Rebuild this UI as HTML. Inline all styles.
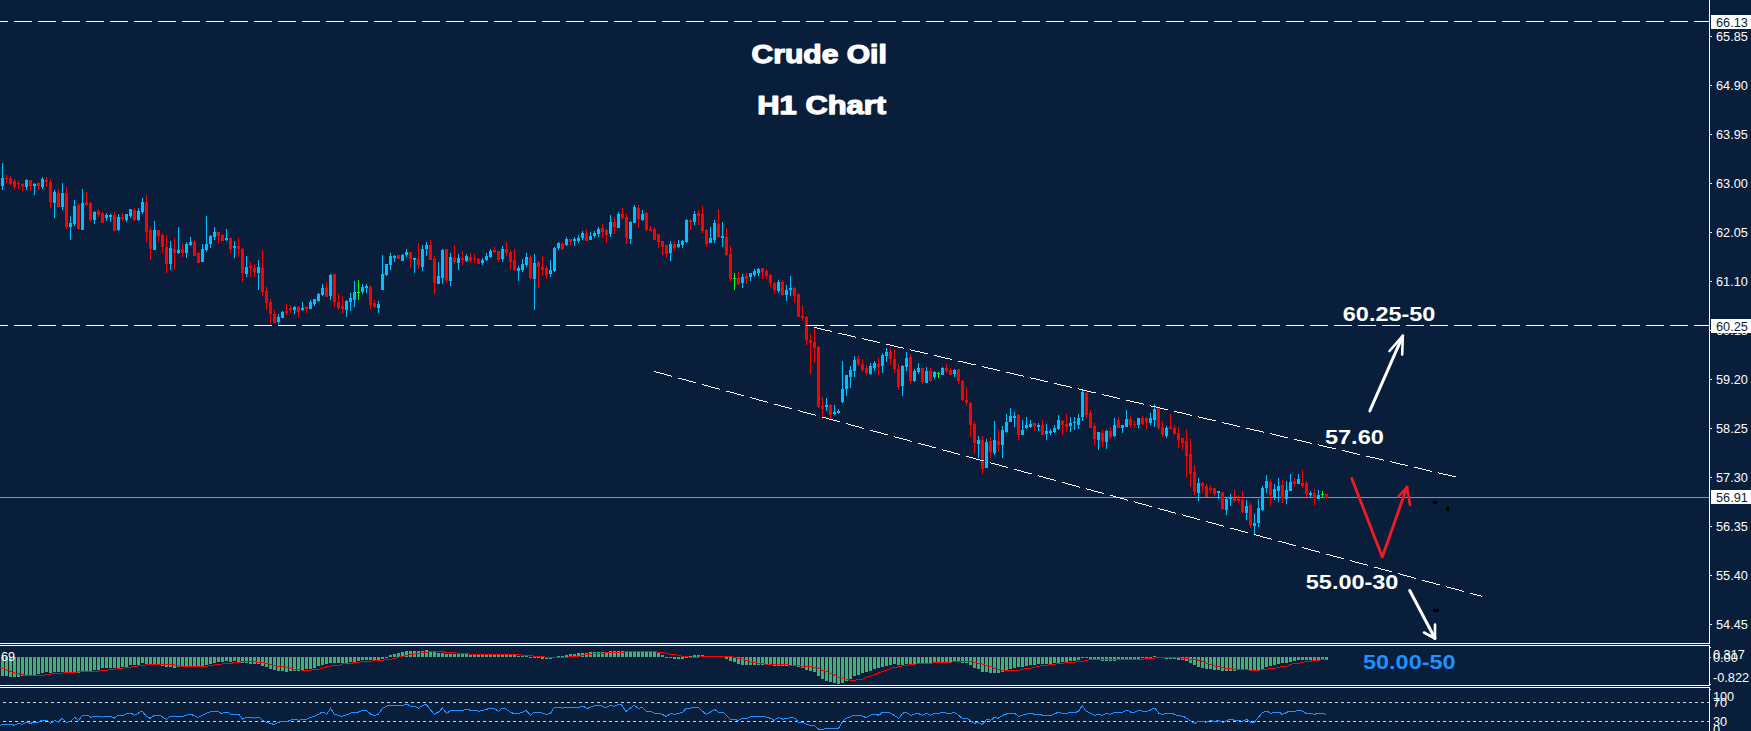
<!DOCTYPE html>
<html><head><meta charset="utf-8"><title>Crude Oil H1 Chart</title>
<style>html,body{margin:0;padding:0;background:#091e3a;overflow:hidden}svg{display:block}text{font-family:"Liberation Sans",sans-serif}</style>
</head><body>
<svg width="1751" height="731" viewBox="0 0 1751 731">
<rect x="0" y="0" width="1751" height="731" fill="#091e3a"/>
<rect x="0" y="497" width="1709" height="1" fill="#8795aa" shape-rendering="crispEdges"/>
<g shape-rendering="crispEdges">
<rect x="2" y="163" width="1" height="27" fill="#00bfff"/>
<rect x="1" y="178" width="3" height="8" fill="#00bfff"/>
<rect x="6" y="175" width="1" height="8" fill="#ff0000"/>
<rect x="5" y="178" width="3" height="1" fill="#ff0000"/>
<rect x="10" y="176" width="1" height="9" fill="#ff0000"/>
<rect x="9" y="178" width="3" height="6" fill="#ff0000"/>
<rect x="14" y="179" width="1" height="10" fill="#ff0000"/>
<rect x="13" y="181" width="3" height="6" fill="#ff0000"/>
<rect x="18" y="181" width="1" height="8" fill="#ff0000"/>
<rect x="17" y="183" width="3" height="1" fill="#ff0000"/>
<rect x="22" y="183" width="1" height="8" fill="#ff0000"/>
<rect x="21" y="184" width="3" height="2" fill="#ff0000"/>
<rect x="26" y="179" width="1" height="11" fill="#00bfff"/>
<rect x="25" y="180" width="3" height="7" fill="#00bfff"/>
<rect x="30" y="180" width="1" height="11" fill="#ff0000"/>
<rect x="29" y="180" width="3" height="6" fill="#ff0000"/>
<rect x="34" y="183" width="1" height="12" fill="#00bfff"/>
<rect x="33" y="184" width="3" height="2" fill="#00bfff"/>
<rect x="38" y="182" width="1" height="8" fill="#ff0000"/>
<rect x="37" y="183" width="3" height="3" fill="#ff0000"/>
<rect x="42" y="177" width="1" height="12" fill="#00bfff"/>
<rect x="41" y="179" width="3" height="8" fill="#00bfff"/>
<rect x="46" y="177" width="1" height="10" fill="#ff0000"/>
<rect x="45" y="180" width="3" height="2" fill="#ff0000"/>
<rect x="50" y="179" width="1" height="29" fill="#ff0000"/>
<rect x="49" y="182" width="3" height="20" fill="#ff0000"/>
<rect x="54" y="190" width="1" height="28" fill="#00bfff"/>
<rect x="53" y="192" width="3" height="11" fill="#00bfff"/>
<rect x="58" y="189" width="1" height="18" fill="#ff0000"/>
<rect x="57" y="193" width="3" height="14" fill="#ff0000"/>
<rect x="62" y="183" width="1" height="27" fill="#00bfff"/>
<rect x="61" y="193" width="3" height="14" fill="#00bfff"/>
<rect x="66" y="187" width="1" height="42" fill="#ff0000"/>
<rect x="65" y="193" width="3" height="34" fill="#ff0000"/>
<rect x="70" y="216" width="1" height="24" fill="#00bfff"/>
<rect x="69" y="223" width="3" height="4" fill="#00bfff"/>
<rect x="74" y="200" width="1" height="26" fill="#00bfff"/>
<rect x="73" y="206" width="3" height="18" fill="#00bfff"/>
<rect x="78" y="203" width="1" height="27" fill="#ff0000"/>
<rect x="77" y="205" width="3" height="24" fill="#ff0000"/>
<rect x="82" y="189" width="1" height="41" fill="#00bfff"/>
<rect x="81" y="203" width="3" height="27" fill="#00bfff"/>
<rect x="86" y="192" width="1" height="14" fill="#ff0000"/>
<rect x="85" y="202" width="3" height="3" fill="#ff0000"/>
<rect x="90" y="202" width="1" height="20" fill="#ff0000"/>
<rect x="89" y="203" width="3" height="17" fill="#ff0000"/>
<rect x="94" y="211" width="1" height="13" fill="#00bfff"/>
<rect x="93" y="212" width="3" height="8" fill="#00bfff"/>
<rect x="98" y="209" width="1" height="8" fill="#ff0000"/>
<rect x="97" y="211" width="3" height="4" fill="#ff0000"/>
<rect x="102" y="212" width="1" height="11" fill="#ff0000"/>
<rect x="101" y="213" width="3" height="10" fill="#ff0000"/>
<rect x="106" y="213" width="1" height="8" fill="#00bfff"/>
<rect x="105" y="215" width="3" height="3" fill="#00bfff"/>
<rect x="110" y="214" width="1" height="8" fill="#00bfff"/>
<rect x="109" y="215" width="3" height="2" fill="#00bfff"/>
<rect x="114" y="212" width="1" height="19" fill="#ff0000"/>
<rect x="113" y="215" width="3" height="16" fill="#ff0000"/>
<rect x="118" y="214" width="1" height="17" fill="#00bfff"/>
<rect x="117" y="217" width="3" height="13" fill="#00bfff"/>
<rect x="122" y="213" width="1" height="8" fill="#ff0000"/>
<rect x="121" y="217" width="3" height="2" fill="#ff0000"/>
<rect x="126" y="214" width="1" height="8" fill="#00bfff"/>
<rect x="125" y="214" width="3" height="6" fill="#00bfff"/>
<rect x="130" y="209" width="1" height="9" fill="#00bfff"/>
<rect x="129" y="209" width="3" height="7" fill="#00bfff"/>
<rect x="134" y="208" width="1" height="13" fill="#ff0000"/>
<rect x="133" y="210" width="3" height="10" fill="#ff0000"/>
<rect x="138" y="208" width="1" height="13" fill="#00bfff"/>
<rect x="137" y="211" width="3" height="9" fill="#00bfff"/>
<rect x="142" y="198" width="1" height="16" fill="#00bfff"/>
<rect x="141" y="202" width="3" height="10" fill="#00bfff"/>
<rect x="146" y="195" width="1" height="47" fill="#ff0000"/>
<rect x="145" y="202" width="3" height="30" fill="#ff0000"/>
<rect x="150" y="227" width="1" height="33" fill="#ff0000"/>
<rect x="149" y="230" width="3" height="19" fill="#ff0000"/>
<rect x="154" y="221" width="1" height="29" fill="#00bfff"/>
<rect x="153" y="230" width="3" height="20" fill="#00bfff"/>
<rect x="158" y="230" width="1" height="12" fill="#ff0000"/>
<rect x="157" y="230" width="3" height="6" fill="#ff0000"/>
<rect x="162" y="233" width="1" height="20" fill="#ff0000"/>
<rect x="161" y="235" width="3" height="12" fill="#ff0000"/>
<rect x="166" y="235" width="1" height="38" fill="#ff0000"/>
<rect x="165" y="247" width="3" height="17" fill="#ff0000"/>
<rect x="170" y="241" width="1" height="29" fill="#00bfff"/>
<rect x="169" y="248" width="3" height="16" fill="#00bfff"/>
<rect x="174" y="238" width="1" height="32" fill="#ff0000"/>
<rect x="173" y="249" width="3" height="4" fill="#ff0000"/>
<rect x="178" y="227" width="1" height="27" fill="#00bfff"/>
<rect x="177" y="250" width="3" height="3" fill="#00bfff"/>
<rect x="182" y="243" width="1" height="14" fill="#ff0000"/>
<rect x="181" y="249" width="3" height="4" fill="#ff0000"/>
<rect x="186" y="242" width="1" height="16" fill="#00bfff"/>
<rect x="185" y="244" width="3" height="9" fill="#00bfff"/>
<rect x="190" y="237" width="1" height="9" fill="#00bfff"/>
<rect x="189" y="242" width="3" height="3" fill="#00bfff"/>
<rect x="194" y="240" width="1" height="16" fill="#ff0000"/>
<rect x="193" y="242" width="3" height="14" fill="#ff0000"/>
<rect x="198" y="252" width="1" height="11" fill="#ff0000"/>
<rect x="197" y="253" width="3" height="10" fill="#ff0000"/>
<rect x="202" y="244" width="1" height="18" fill="#00bfff"/>
<rect x="201" y="249" width="3" height="13" fill="#00bfff"/>
<rect x="206" y="216" width="1" height="36" fill="#00bfff"/>
<rect x="205" y="244" width="3" height="6" fill="#00bfff"/>
<rect x="210" y="235" width="1" height="13" fill="#00bfff"/>
<rect x="209" y="236" width="3" height="8" fill="#00bfff"/>
<rect x="214" y="227" width="1" height="13" fill="#00bfff"/>
<rect x="213" y="232" width="3" height="5" fill="#00bfff"/>
<rect x="218" y="232" width="1" height="11" fill="#ff0000"/>
<rect x="217" y="232" width="3" height="4" fill="#ff0000"/>
<rect x="222" y="234" width="1" height="7" fill="#ff0000"/>
<rect x="221" y="235" width="3" height="6" fill="#ff0000"/>
<rect x="226" y="229" width="1" height="12" fill="#00bfff"/>
<rect x="225" y="238" width="3" height="2" fill="#00bfff"/>
<rect x="230" y="237" width="1" height="16" fill="#ff0000"/>
<rect x="229" y="238" width="3" height="11" fill="#ff0000"/>
<rect x="234" y="241" width="1" height="17" fill="#00bfff"/>
<rect x="233" y="246" width="3" height="2" fill="#00bfff"/>
<rect x="238" y="238" width="1" height="19" fill="#ff0000"/>
<rect x="237" y="246" width="3" height="3" fill="#ff0000"/>
<rect x="242" y="248" width="1" height="34" fill="#ff0000"/>
<rect x="241" y="249" width="3" height="24" fill="#ff0000"/>
<rect x="246" y="256" width="1" height="21" fill="#00bfff"/>
<rect x="245" y="267" width="3" height="7" fill="#00bfff"/>
<rect x="250" y="262" width="1" height="15" fill="#ff0000"/>
<rect x="249" y="266" width="3" height="2" fill="#ff0000"/>
<rect x="254" y="264" width="1" height="13" fill="#ff0000"/>
<rect x="253" y="268" width="3" height="4" fill="#ff0000"/>
<rect x="258" y="260" width="1" height="30" fill="#00bfff"/>
<rect x="257" y="267" width="3" height="6" fill="#00bfff"/>
<rect x="262" y="250" width="1" height="46" fill="#ff0000"/>
<rect x="261" y="268" width="3" height="24" fill="#ff0000"/>
<rect x="266" y="287" width="1" height="23" fill="#ff0000"/>
<rect x="265" y="291" width="3" height="12" fill="#ff0000"/>
<rect x="270" y="299" width="1" height="25" fill="#ff0000"/>
<rect x="269" y="302" width="3" height="12" fill="#ff0000"/>
<rect x="274" y="310" width="1" height="13" fill="#ff0000"/>
<rect x="273" y="314" width="3" height="9" fill="#ff0000"/>
<rect x="278" y="314" width="1" height="10" fill="#00bfff"/>
<rect x="277" y="317" width="3" height="5" fill="#00bfff"/>
<rect x="282" y="311" width="1" height="7" fill="#00bfff"/>
<rect x="281" y="312" width="3" height="6" fill="#00bfff"/>
<rect x="286" y="304" width="1" height="11" fill="#ff0000"/>
<rect x="285" y="311" width="3" height="2" fill="#ff0000"/>
<rect x="290" y="305" width="1" height="8" fill="#ff0000"/>
<rect x="289" y="308" width="3" height="2" fill="#ff0000"/>
<rect x="294" y="306" width="1" height="8" fill="#00bfff"/>
<rect x="293" y="307" width="3" height="3" fill="#00bfff"/>
<rect x="298" y="306" width="1" height="11" fill="#ff0000"/>
<rect x="297" y="307" width="3" height="5" fill="#ff0000"/>
<rect x="302" y="302" width="1" height="9" fill="#00bfff"/>
<rect x="301" y="308" width="3" height="2" fill="#00bfff"/>
<rect x="306" y="306" width="1" height="7" fill="#ff0000"/>
<rect x="305" y="307" width="3" height="2" fill="#ff0000"/>
<rect x="310" y="300" width="1" height="9" fill="#00bfff"/>
<rect x="309" y="302" width="3" height="7" fill="#00bfff"/>
<rect x="314" y="299" width="1" height="7" fill="#00bfff"/>
<rect x="313" y="299" width="3" height="5" fill="#00bfff"/>
<rect x="318" y="293" width="1" height="9" fill="#00bfff"/>
<rect x="317" y="294" width="3" height="7" fill="#00bfff"/>
<rect x="322" y="284" width="1" height="12" fill="#00bfff"/>
<rect x="321" y="288" width="3" height="7" fill="#00bfff"/>
<rect x="326" y="282" width="1" height="15" fill="#ff0000"/>
<rect x="325" y="288" width="3" height="9" fill="#ff0000"/>
<rect x="330" y="274" width="1" height="26" fill="#00bfff"/>
<rect x="329" y="275" width="3" height="21" fill="#00bfff"/>
<rect x="334" y="274" width="1" height="33" fill="#ff0000"/>
<rect x="333" y="274" width="3" height="28" fill="#ff0000"/>
<rect x="338" y="294" width="1" height="16" fill="#ff0000"/>
<rect x="337" y="302" width="3" height="6" fill="#ff0000"/>
<rect x="342" y="296" width="1" height="17" fill="#ff0000"/>
<rect x="341" y="306" width="3" height="3" fill="#ff0000"/>
<rect x="346" y="300" width="1" height="17" fill="#00bfff"/>
<rect x="345" y="301" width="3" height="9" fill="#00bfff"/>
<rect x="350" y="293" width="1" height="18" fill="#00bfff"/>
<rect x="349" y="298" width="3" height="4" fill="#00bfff"/>
<rect x="354" y="281" width="1" height="26" fill="#00bfff"/>
<rect x="353" y="292" width="3" height="8" fill="#00bfff"/>
<rect x="358" y="280" width="1" height="20" fill="#00ff00"/>
<rect x="357" y="292" width="3" height="1" fill="#00ff00"/>
<rect x="362" y="284" width="1" height="10" fill="#00bfff"/>
<rect x="361" y="287" width="3" height="5" fill="#00bfff"/>
<rect x="366" y="284" width="1" height="9" fill="#00bfff"/>
<rect x="365" y="286" width="3" height="2" fill="#00bfff"/>
<rect x="370" y="285" width="1" height="24" fill="#ff0000"/>
<rect x="369" y="287" width="3" height="18" fill="#ff0000"/>
<rect x="374" y="300" width="1" height="8" fill="#ff0000"/>
<rect x="373" y="303" width="3" height="4" fill="#ff0000"/>
<rect x="378" y="301" width="1" height="12" fill="#00bfff"/>
<rect x="377" y="304" width="3" height="4" fill="#00bfff"/>
<rect x="382" y="255" width="1" height="35" fill="#00bfff"/>
<rect x="381" y="274" width="3" height="16" fill="#00bfff"/>
<rect x="386" y="264" width="1" height="12" fill="#00bfff"/>
<rect x="385" y="264" width="3" height="11" fill="#00bfff"/>
<rect x="390" y="253" width="1" height="17" fill="#00bfff"/>
<rect x="389" y="256" width="3" height="9" fill="#00bfff"/>
<rect x="394" y="255" width="1" height="7" fill="#00bfff"/>
<rect x="393" y="256" width="3" height="2" fill="#00bfff"/>
<rect x="398" y="255" width="1" height="4" fill="#ff0000"/>
<rect x="397" y="255" width="3" height="4" fill="#ff0000"/>
<rect x="402" y="254" width="1" height="7" fill="#00bfff"/>
<rect x="401" y="255" width="3" height="6" fill="#00bfff"/>
<rect x="406" y="249" width="1" height="8" fill="#00bfff"/>
<rect x="405" y="252" width="3" height="3" fill="#00bfff"/>
<rect x="410" y="252" width="1" height="16" fill="#ff0000"/>
<rect x="409" y="252" width="3" height="7" fill="#ff0000"/>
<rect x="414" y="258" width="1" height="15" fill="#00bfff"/>
<rect x="413" y="258" width="3" height="2" fill="#00bfff"/>
<rect x="418" y="243" width="1" height="26" fill="#ff0000"/>
<rect x="417" y="259" width="3" height="6" fill="#ff0000"/>
<rect x="422" y="245" width="1" height="26" fill="#00bfff"/>
<rect x="421" y="249" width="3" height="18" fill="#00bfff"/>
<rect x="426" y="242" width="1" height="14" fill="#00bfff"/>
<rect x="425" y="245" width="3" height="4" fill="#00bfff"/>
<rect x="430" y="240" width="1" height="20" fill="#ff0000"/>
<rect x="429" y="245" width="3" height="15" fill="#ff0000"/>
<rect x="434" y="256" width="1" height="38" fill="#ff0000"/>
<rect x="433" y="259" width="3" height="24" fill="#ff0000"/>
<rect x="438" y="262" width="1" height="22" fill="#00bfff"/>
<rect x="437" y="276" width="3" height="8" fill="#00bfff"/>
<rect x="442" y="249" width="1" height="35" fill="#00bfff"/>
<rect x="441" y="250" width="3" height="28" fill="#00bfff"/>
<rect x="446" y="249" width="1" height="34" fill="#ff0000"/>
<rect x="445" y="249" width="3" height="31" fill="#ff0000"/>
<rect x="450" y="253" width="1" height="33" fill="#00bfff"/>
<rect x="449" y="257" width="3" height="24" fill="#00bfff"/>
<rect x="454" y="245" width="1" height="19" fill="#ff0000"/>
<rect x="453" y="258" width="3" height="4" fill="#ff0000"/>
<rect x="458" y="254" width="1" height="16" fill="#00bfff"/>
<rect x="457" y="258" width="3" height="5" fill="#00bfff"/>
<rect x="462" y="251" width="1" height="14" fill="#ff0000"/>
<rect x="461" y="258" width="3" height="2" fill="#ff0000"/>
<rect x="466" y="254" width="1" height="8" fill="#00bfff"/>
<rect x="465" y="256" width="3" height="5" fill="#00bfff"/>
<rect x="470" y="253" width="1" height="10" fill="#ff0000"/>
<rect x="469" y="257" width="3" height="4" fill="#ff0000"/>
<rect x="474" y="254" width="1" height="9" fill="#ff0000"/>
<rect x="473" y="258" width="3" height="1" fill="#ff0000"/>
<rect x="478" y="258" width="1" height="6" fill="#ff0000"/>
<rect x="477" y="259" width="3" height="5" fill="#ff0000"/>
<rect x="482" y="258" width="1" height="7" fill="#00bfff"/>
<rect x="481" y="260" width="3" height="3" fill="#00bfff"/>
<rect x="486" y="253" width="1" height="8" fill="#00bfff"/>
<rect x="485" y="256" width="3" height="4" fill="#00bfff"/>
<rect x="490" y="249" width="1" height="9" fill="#00bfff"/>
<rect x="489" y="251" width="3" height="6" fill="#00bfff"/>
<rect x="494" y="247" width="1" height="6" fill="#ff0000"/>
<rect x="493" y="250" width="3" height="2" fill="#ff0000"/>
<rect x="498" y="251" width="1" height="11" fill="#ff0000"/>
<rect x="497" y="251" width="3" height="9" fill="#ff0000"/>
<rect x="502" y="246" width="1" height="16" fill="#00bfff"/>
<rect x="501" y="249" width="3" height="10" fill="#00bfff"/>
<rect x="506" y="242" width="1" height="14" fill="#ff0000"/>
<rect x="505" y="249" width="3" height="4" fill="#ff0000"/>
<rect x="510" y="250" width="1" height="20" fill="#ff0000"/>
<rect x="509" y="252" width="3" height="10" fill="#ff0000"/>
<rect x="514" y="249" width="1" height="22" fill="#ff0000"/>
<rect x="513" y="260" width="3" height="10" fill="#ff0000"/>
<rect x="518" y="266" width="1" height="15" fill="#00bfff"/>
<rect x="517" y="268" width="3" height="3" fill="#00bfff"/>
<rect x="522" y="259" width="1" height="13" fill="#00bfff"/>
<rect x="521" y="264" width="3" height="6" fill="#00bfff"/>
<rect x="526" y="253" width="1" height="14" fill="#00bfff"/>
<rect x="525" y="257" width="3" height="8" fill="#00bfff"/>
<rect x="530" y="255" width="1" height="24" fill="#ff0000"/>
<rect x="529" y="257" width="3" height="21" fill="#ff0000"/>
<rect x="534" y="254" width="1" height="56" fill="#00bfff"/>
<rect x="533" y="263" width="3" height="16" fill="#00bfff"/>
<rect x="538" y="261" width="1" height="27" fill="#ff0000"/>
<rect x="537" y="262" width="3" height="5" fill="#ff0000"/>
<rect x="542" y="256" width="1" height="20" fill="#ff0000"/>
<rect x="541" y="267" width="3" height="3" fill="#ff0000"/>
<rect x="546" y="266" width="1" height="13" fill="#ff0000"/>
<rect x="545" y="268" width="3" height="7" fill="#ff0000"/>
<rect x="550" y="260" width="1" height="17" fill="#00bfff"/>
<rect x="549" y="270" width="3" height="4" fill="#00bfff"/>
<rect x="554" y="247" width="1" height="25" fill="#00bfff"/>
<rect x="553" y="248" width="3" height="23" fill="#00bfff"/>
<rect x="558" y="242" width="1" height="8" fill="#00bfff"/>
<rect x="557" y="243" width="3" height="5" fill="#00bfff"/>
<rect x="562" y="242" width="1" height="8" fill="#ff0000"/>
<rect x="561" y="244" width="3" height="5" fill="#ff0000"/>
<rect x="566" y="237" width="1" height="9" fill="#00bfff"/>
<rect x="565" y="239" width="3" height="6" fill="#00bfff"/>
<rect x="570" y="239" width="1" height="7" fill="#ff0000"/>
<rect x="569" y="239" width="3" height="3" fill="#ff0000"/>
<rect x="574" y="237" width="1" height="9" fill="#00bfff"/>
<rect x="573" y="239" width="3" height="2" fill="#00bfff"/>
<rect x="578" y="235" width="1" height="8" fill="#00bfff"/>
<rect x="577" y="238" width="3" height="3" fill="#00bfff"/>
<rect x="582" y="231" width="1" height="9" fill="#00bfff"/>
<rect x="581" y="233" width="3" height="5" fill="#00bfff"/>
<rect x="586" y="229" width="1" height="12" fill="#ff0000"/>
<rect x="585" y="233" width="3" height="8" fill="#ff0000"/>
<rect x="590" y="232" width="1" height="8" fill="#00bfff"/>
<rect x="589" y="236" width="3" height="4" fill="#00bfff"/>
<rect x="594" y="231" width="1" height="7" fill="#00bfff"/>
<rect x="593" y="233" width="3" height="3" fill="#00bfff"/>
<rect x="598" y="227" width="1" height="10" fill="#00bfff"/>
<rect x="597" y="229" width="3" height="5" fill="#00bfff"/>
<rect x="602" y="224" width="1" height="14" fill="#ff0000"/>
<rect x="601" y="228" width="3" height="4" fill="#ff0000"/>
<rect x="606" y="229" width="1" height="14" fill="#ff0000"/>
<rect x="605" y="230" width="3" height="5" fill="#ff0000"/>
<rect x="610" y="215" width="1" height="22" fill="#00bfff"/>
<rect x="609" y="222" width="3" height="12" fill="#00bfff"/>
<rect x="614" y="217" width="1" height="17" fill="#ff0000"/>
<rect x="613" y="222" width="3" height="5" fill="#ff0000"/>
<rect x="618" y="212" width="1" height="16" fill="#00bfff"/>
<rect x="617" y="214" width="3" height="14" fill="#00bfff"/>
<rect x="622" y="208" width="1" height="12" fill="#ff0000"/>
<rect x="621" y="214" width="3" height="4" fill="#ff0000"/>
<rect x="626" y="214" width="1" height="30" fill="#ff0000"/>
<rect x="625" y="217" width="3" height="21" fill="#ff0000"/>
<rect x="630" y="221" width="1" height="23" fill="#00bfff"/>
<rect x="629" y="222" width="3" height="17" fill="#00bfff"/>
<rect x="634" y="205" width="1" height="18" fill="#00bfff"/>
<rect x="633" y="207" width="3" height="16" fill="#00bfff"/>
<rect x="638" y="205" width="1" height="23" fill="#ff0000"/>
<rect x="637" y="208" width="3" height="11" fill="#ff0000"/>
<rect x="642" y="210" width="1" height="11" fill="#00bfff"/>
<rect x="641" y="214" width="3" height="6" fill="#00bfff"/>
<rect x="646" y="212" width="1" height="19" fill="#ff0000"/>
<rect x="645" y="213" width="3" height="17" fill="#ff0000"/>
<rect x="650" y="226" width="1" height="5" fill="#ff0000"/>
<rect x="649" y="229" width="3" height="2" fill="#ff0000"/>
<rect x="654" y="227" width="1" height="13" fill="#ff0000"/>
<rect x="653" y="229" width="3" height="11" fill="#ff0000"/>
<rect x="658" y="234" width="1" height="14" fill="#ff0000"/>
<rect x="657" y="234" width="3" height="8" fill="#ff0000"/>
<rect x="662" y="241" width="1" height="14" fill="#ff0000"/>
<rect x="661" y="241" width="3" height="6" fill="#ff0000"/>
<rect x="666" y="245" width="1" height="13" fill="#ff0000"/>
<rect x="665" y="245" width="3" height="9" fill="#ff0000"/>
<rect x="670" y="241" width="1" height="20" fill="#00bfff"/>
<rect x="669" y="244" width="3" height="9" fill="#00bfff"/>
<rect x="674" y="241" width="1" height="10" fill="#ff0000"/>
<rect x="673" y="244" width="3" height="4" fill="#ff0000"/>
<rect x="678" y="240" width="1" height="8" fill="#00bfff"/>
<rect x="677" y="244" width="3" height="3" fill="#00bfff"/>
<rect x="682" y="240" width="1" height="8" fill="#00bfff"/>
<rect x="681" y="241" width="3" height="4" fill="#00bfff"/>
<rect x="686" y="219" width="1" height="24" fill="#00bfff"/>
<rect x="685" y="220" width="3" height="22" fill="#00bfff"/>
<rect x="690" y="219" width="1" height="11" fill="#ff0000"/>
<rect x="689" y="220" width="3" height="2" fill="#ff0000"/>
<rect x="694" y="211" width="1" height="14" fill="#00bfff"/>
<rect x="693" y="214" width="3" height="8" fill="#00bfff"/>
<rect x="698" y="210" width="1" height="15" fill="#ff0000"/>
<rect x="697" y="213" width="3" height="3" fill="#ff0000"/>
<rect x="702" y="206" width="1" height="27" fill="#ff0000"/>
<rect x="701" y="214" width="3" height="17" fill="#ff0000"/>
<rect x="706" y="229" width="1" height="18" fill="#ff0000"/>
<rect x="705" y="230" width="3" height="14" fill="#ff0000"/>
<rect x="710" y="227" width="1" height="16" fill="#00bfff"/>
<rect x="709" y="238" width="3" height="5" fill="#00bfff"/>
<rect x="714" y="220" width="1" height="23" fill="#00bfff"/>
<rect x="713" y="223" width="3" height="17" fill="#00bfff"/>
<rect x="718" y="209" width="1" height="29" fill="#ff0000"/>
<rect x="717" y="224" width="3" height="13" fill="#ff0000"/>
<rect x="722" y="222" width="1" height="25" fill="#00bfff"/>
<rect x="721" y="236" width="3" height="2" fill="#00bfff"/>
<rect x="726" y="228" width="1" height="28" fill="#ff0000"/>
<rect x="725" y="237" width="3" height="18" fill="#ff0000"/>
<rect x="730" y="246" width="1" height="35" fill="#ff0000"/>
<rect x="729" y="254" width="3" height="25" fill="#ff0000"/>
<rect x="734" y="273" width="1" height="17" fill="#00ff00"/>
<rect x="733" y="278" width="3" height="1" fill="#00ff00"/>
<rect x="738" y="272" width="1" height="13" fill="#ff0000"/>
<rect x="737" y="278" width="3" height="6" fill="#ff0000"/>
<rect x="742" y="274" width="1" height="14" fill="#00bfff"/>
<rect x="741" y="277" width="3" height="6" fill="#00bfff"/>
<rect x="746" y="273" width="1" height="11" fill="#ff0000"/>
<rect x="745" y="276" width="3" height="3" fill="#ff0000"/>
<rect x="750" y="273" width="1" height="8" fill="#00bfff"/>
<rect x="749" y="273" width="3" height="4" fill="#00bfff"/>
<rect x="754" y="269" width="1" height="8" fill="#00bfff"/>
<rect x="753" y="271" width="3" height="4" fill="#00bfff"/>
<rect x="758" y="268" width="1" height="8" fill="#00bfff"/>
<rect x="757" y="269" width="3" height="4" fill="#00bfff"/>
<rect x="762" y="268" width="1" height="11" fill="#ff0000"/>
<rect x="761" y="268" width="3" height="4" fill="#ff0000"/>
<rect x="766" y="269" width="1" height="10" fill="#ff0000"/>
<rect x="765" y="271" width="3" height="5" fill="#ff0000"/>
<rect x="770" y="274" width="1" height="13" fill="#ff0000"/>
<rect x="769" y="275" width="3" height="8" fill="#ff0000"/>
<rect x="774" y="282" width="1" height="11" fill="#ff0000"/>
<rect x="773" y="283" width="3" height="7" fill="#ff0000"/>
<rect x="778" y="280" width="1" height="13" fill="#00bfff"/>
<rect x="777" y="282" width="3" height="9" fill="#00bfff"/>
<rect x="782" y="280" width="1" height="16" fill="#ff0000"/>
<rect x="781" y="282" width="3" height="13" fill="#ff0000"/>
<rect x="786" y="285" width="1" height="16" fill="#00bfff"/>
<rect x="785" y="290" width="3" height="5" fill="#00bfff"/>
<rect x="790" y="276" width="1" height="20" fill="#00bfff"/>
<rect x="789" y="288" width="3" height="2" fill="#00bfff"/>
<rect x="794" y="287" width="1" height="16" fill="#ff0000"/>
<rect x="793" y="288" width="3" height="8" fill="#ff0000"/>
<rect x="798" y="293" width="1" height="24" fill="#ff0000"/>
<rect x="797" y="294" width="3" height="23" fill="#ff0000"/>
<rect x="802" y="305" width="1" height="16" fill="#ff0000"/>
<rect x="801" y="316" width="3" height="2" fill="#ff0000"/>
<rect x="806" y="316" width="1" height="29" fill="#ff0000"/>
<rect x="805" y="317" width="3" height="23" fill="#ff0000"/>
<rect x="810" y="334" width="1" height="40" fill="#ff0000"/>
<rect x="809" y="340" width="3" height="3" fill="#ff0000"/>
<rect x="814" y="328" width="1" height="35" fill="#ff0000"/>
<rect x="813" y="342" width="3" height="6" fill="#ff0000"/>
<rect x="818" y="346" width="1" height="62" fill="#ff0000"/>
<rect x="817" y="347" width="3" height="60" fill="#ff0000"/>
<rect x="822" y="397" width="1" height="21" fill="#ff0000"/>
<rect x="821" y="406" width="3" height="3" fill="#ff0000"/>
<rect x="826" y="398" width="1" height="13" fill="#00bfff"/>
<rect x="825" y="405" width="3" height="2" fill="#00bfff"/>
<rect x="830" y="404" width="1" height="15" fill="#ff0000"/>
<rect x="829" y="405" width="3" height="10" fill="#ff0000"/>
<rect x="834" y="405" width="1" height="10" fill="#00bfff"/>
<rect x="833" y="412" width="3" height="2" fill="#00bfff"/>
<rect x="838" y="409" width="1" height="5" fill="#00bfff"/>
<rect x="837" y="411" width="3" height="2" fill="#00bfff"/>
<rect x="842" y="361" width="1" height="42" fill="#00bfff"/>
<rect x="841" y="389" width="3" height="13" fill="#00bfff"/>
<rect x="846" y="375" width="1" height="21" fill="#00bfff"/>
<rect x="845" y="375" width="3" height="14" fill="#00bfff"/>
<rect x="850" y="366" width="1" height="22" fill="#00bfff"/>
<rect x="849" y="370" width="3" height="7" fill="#00bfff"/>
<rect x="854" y="356" width="1" height="21" fill="#00bfff"/>
<rect x="853" y="360" width="3" height="11" fill="#00bfff"/>
<rect x="858" y="355" width="1" height="11" fill="#ff0000"/>
<rect x="857" y="359" width="3" height="5" fill="#ff0000"/>
<rect x="862" y="359" width="1" height="13" fill="#ff0000"/>
<rect x="861" y="364" width="3" height="6" fill="#ff0000"/>
<rect x="866" y="365" width="1" height="10" fill="#ff0000"/>
<rect x="865" y="368" width="3" height="5" fill="#ff0000"/>
<rect x="870" y="363" width="1" height="12" fill="#00bfff"/>
<rect x="869" y="366" width="3" height="8" fill="#00bfff"/>
<rect x="874" y="361" width="1" height="10" fill="#00bfff"/>
<rect x="873" y="363" width="3" height="5" fill="#00bfff"/>
<rect x="878" y="358" width="1" height="17" fill="#ff0000"/>
<rect x="877" y="364" width="3" height="3" fill="#ff0000"/>
<rect x="882" y="353" width="1" height="20" fill="#00bfff"/>
<rect x="881" y="355" width="3" height="11" fill="#00bfff"/>
<rect x="886" y="348" width="1" height="14" fill="#00bfff"/>
<rect x="885" y="352" width="3" height="4" fill="#00bfff"/>
<rect x="890" y="348" width="1" height="17" fill="#ff0000"/>
<rect x="889" y="352" width="3" height="7" fill="#ff0000"/>
<rect x="894" y="350" width="1" height="23" fill="#ff0000"/>
<rect x="893" y="359" width="3" height="10" fill="#ff0000"/>
<rect x="898" y="364" width="1" height="26" fill="#ff0000"/>
<rect x="897" y="369" width="3" height="18" fill="#ff0000"/>
<rect x="902" y="365" width="1" height="31" fill="#00bfff"/>
<rect x="901" y="366" width="3" height="20" fill="#00bfff"/>
<rect x="906" y="352" width="1" height="19" fill="#00bfff"/>
<rect x="905" y="358" width="3" height="9" fill="#00bfff"/>
<rect x="910" y="354" width="1" height="30" fill="#ff0000"/>
<rect x="909" y="357" width="3" height="24" fill="#ff0000"/>
<rect x="914" y="369" width="1" height="13" fill="#00bfff"/>
<rect x="913" y="371" width="3" height="10" fill="#00bfff"/>
<rect x="918" y="363" width="1" height="11" fill="#00bfff"/>
<rect x="917" y="368" width="3" height="4" fill="#00bfff"/>
<rect x="922" y="368" width="1" height="16" fill="#ff0000"/>
<rect x="921" y="368" width="3" height="14" fill="#ff0000"/>
<rect x="926" y="367" width="1" height="16" fill="#00bfff"/>
<rect x="925" y="371" width="3" height="12" fill="#00bfff"/>
<rect x="930" y="368" width="1" height="14" fill="#ff0000"/>
<rect x="929" y="371" width="3" height="10" fill="#ff0000"/>
<rect x="934" y="371" width="1" height="8" fill="#00bfff"/>
<rect x="933" y="372" width="3" height="5" fill="#00bfff"/>
<rect x="938" y="372" width="1" height="6" fill="#00ff00"/>
<rect x="937" y="373" width="3" height="1" fill="#00ff00"/>
<rect x="942" y="367" width="1" height="8" fill="#00bfff"/>
<rect x="941" y="368" width="3" height="7" fill="#00bfff"/>
<rect x="946" y="364" width="1" height="9" fill="#ff0000"/>
<rect x="945" y="368" width="3" height="3" fill="#ff0000"/>
<rect x="950" y="368" width="1" height="7" fill="#ff0000"/>
<rect x="949" y="370" width="3" height="5" fill="#ff0000"/>
<rect x="954" y="369" width="1" height="8" fill="#00bfff"/>
<rect x="953" y="370" width="3" height="4" fill="#00bfff"/>
<rect x="958" y="369" width="1" height="15" fill="#ff0000"/>
<rect x="957" y="369" width="3" height="12" fill="#ff0000"/>
<rect x="962" y="380" width="1" height="21" fill="#ff0000"/>
<rect x="961" y="381" width="3" height="19" fill="#ff0000"/>
<rect x="966" y="387" width="1" height="19" fill="#ff0000"/>
<rect x="965" y="400" width="3" height="3" fill="#ff0000"/>
<rect x="970" y="402" width="1" height="35" fill="#ff0000"/>
<rect x="969" y="403" width="3" height="22" fill="#ff0000"/>
<rect x="974" y="422" width="1" height="32" fill="#ff0000"/>
<rect x="973" y="424" width="3" height="19" fill="#ff0000"/>
<rect x="978" y="436" width="1" height="22" fill="#00bfff"/>
<rect x="977" y="440" width="3" height="4" fill="#00bfff"/>
<rect x="982" y="436" width="1" height="38" fill="#ff0000"/>
<rect x="981" y="440" width="3" height="29" fill="#ff0000"/>
<rect x="986" y="439" width="1" height="29" fill="#00bfff"/>
<rect x="985" y="442" width="3" height="26" fill="#00bfff"/>
<rect x="990" y="437" width="1" height="21" fill="#ff0000"/>
<rect x="989" y="441" width="3" height="11" fill="#ff0000"/>
<rect x="994" y="421" width="1" height="34" fill="#00bfff"/>
<rect x="993" y="440" width="3" height="13" fill="#00bfff"/>
<rect x="998" y="430" width="1" height="22" fill="#ff0000"/>
<rect x="997" y="441" width="3" height="4" fill="#ff0000"/>
<rect x="1002" y="426" width="1" height="32" fill="#00bfff"/>
<rect x="1001" y="430" width="3" height="15" fill="#00bfff"/>
<rect x="1006" y="414" width="1" height="19" fill="#00bfff"/>
<rect x="1005" y="422" width="3" height="10" fill="#00bfff"/>
<rect x="1010" y="408" width="1" height="14" fill="#00bfff"/>
<rect x="1009" y="416" width="3" height="6" fill="#00bfff"/>
<rect x="1014" y="412" width="1" height="15" fill="#00bfff"/>
<rect x="1013" y="416" width="3" height="2" fill="#00bfff"/>
<rect x="1018" y="414" width="1" height="26" fill="#ff0000"/>
<rect x="1017" y="415" width="3" height="20" fill="#ff0000"/>
<rect x="1022" y="420" width="1" height="15" fill="#00bfff"/>
<rect x="1021" y="430" width="3" height="5" fill="#00bfff"/>
<rect x="1026" y="417" width="1" height="12" fill="#00bfff"/>
<rect x="1025" y="425" width="3" height="3" fill="#00bfff"/>
<rect x="1030" y="420" width="1" height="8" fill="#00bfff"/>
<rect x="1029" y="424" width="3" height="3" fill="#00bfff"/>
<rect x="1034" y="423" width="1" height="8" fill="#ff0000"/>
<rect x="1033" y="423" width="3" height="3" fill="#ff0000"/>
<rect x="1038" y="423" width="1" height="8" fill="#00bfff"/>
<rect x="1037" y="425" width="3" height="2" fill="#00bfff"/>
<rect x="1042" y="420" width="1" height="15" fill="#ff0000"/>
<rect x="1041" y="425" width="3" height="10" fill="#ff0000"/>
<rect x="1046" y="424" width="1" height="16" fill="#00bfff"/>
<rect x="1045" y="431" width="3" height="3" fill="#00bfff"/>
<rect x="1050" y="429" width="1" height="6" fill="#00bfff"/>
<rect x="1049" y="431" width="3" height="2" fill="#00bfff"/>
<rect x="1054" y="425" width="1" height="8" fill="#00bfff"/>
<rect x="1053" y="428" width="3" height="4" fill="#00bfff"/>
<rect x="1058" y="415" width="1" height="15" fill="#00bfff"/>
<rect x="1057" y="420" width="3" height="9" fill="#00bfff"/>
<rect x="1062" y="420" width="1" height="15" fill="#ff0000"/>
<rect x="1061" y="421" width="3" height="4" fill="#ff0000"/>
<rect x="1066" y="414" width="1" height="18" fill="#ff0000"/>
<rect x="1065" y="424" width="3" height="3" fill="#ff0000"/>
<rect x="1070" y="417" width="1" height="15" fill="#00bfff"/>
<rect x="1069" y="423" width="3" height="3" fill="#00bfff"/>
<rect x="1074" y="417" width="1" height="13" fill="#00bfff"/>
<rect x="1073" y="422" width="3" height="1" fill="#00bfff"/>
<rect x="1078" y="414" width="1" height="15" fill="#00bfff"/>
<rect x="1077" y="418" width="3" height="7" fill="#00bfff"/>
<rect x="1082" y="390" width="1" height="31" fill="#00bfff"/>
<rect x="1081" y="392" width="3" height="25" fill="#00bfff"/>
<rect x="1086" y="392" width="1" height="26" fill="#ff0000"/>
<rect x="1085" y="393" width="3" height="22" fill="#ff0000"/>
<rect x="1090" y="410" width="1" height="18" fill="#ff0000"/>
<rect x="1089" y="413" width="3" height="15" fill="#ff0000"/>
<rect x="1094" y="423" width="1" height="22" fill="#ff0000"/>
<rect x="1093" y="426" width="3" height="13" fill="#ff0000"/>
<rect x="1098" y="432" width="1" height="18" fill="#00bfff"/>
<rect x="1097" y="432" width="3" height="8" fill="#00bfff"/>
<rect x="1102" y="430" width="1" height="17" fill="#ff0000"/>
<rect x="1101" y="433" width="3" height="9" fill="#ff0000"/>
<rect x="1106" y="430" width="1" height="19" fill="#00bfff"/>
<rect x="1105" y="431" width="3" height="11" fill="#00bfff"/>
<rect x="1110" y="427" width="1" height="12" fill="#ff0000"/>
<rect x="1109" y="431" width="3" height="6" fill="#ff0000"/>
<rect x="1114" y="418" width="1" height="19" fill="#00bfff"/>
<rect x="1113" y="425" width="3" height="11" fill="#00bfff"/>
<rect x="1118" y="417" width="1" height="11" fill="#ff0000"/>
<rect x="1117" y="420" width="3" height="8" fill="#ff0000"/>
<rect x="1122" y="425" width="1" height="8" fill="#00bfff"/>
<rect x="1121" y="425" width="3" height="3" fill="#00bfff"/>
<rect x="1126" y="410" width="1" height="17" fill="#00bfff"/>
<rect x="1125" y="419" width="3" height="8" fill="#00bfff"/>
<rect x="1130" y="416" width="1" height="11" fill="#ff0000"/>
<rect x="1129" y="419" width="3" height="6" fill="#ff0000"/>
<rect x="1134" y="421" width="1" height="7" fill="#ff0000"/>
<rect x="1133" y="424" width="3" height="1" fill="#ff0000"/>
<rect x="1138" y="418" width="1" height="10" fill="#00bfff"/>
<rect x="1137" y="418" width="3" height="7" fill="#00bfff"/>
<rect x="1142" y="416" width="1" height="9" fill="#ff0000"/>
<rect x="1141" y="418" width="3" height="6" fill="#ff0000"/>
<rect x="1146" y="417" width="1" height="12" fill="#ff0000"/>
<rect x="1145" y="418" width="3" height="4" fill="#ff0000"/>
<rect x="1150" y="413" width="1" height="12" fill="#00bfff"/>
<rect x="1149" y="418" width="3" height="5" fill="#00bfff"/>
<rect x="1154" y="404" width="1" height="23" fill="#00bfff"/>
<rect x="1153" y="409" width="3" height="11" fill="#00bfff"/>
<rect x="1158" y="408" width="1" height="22" fill="#ff0000"/>
<rect x="1157" y="408" width="3" height="20" fill="#ff0000"/>
<rect x="1162" y="421" width="1" height="16" fill="#ff0000"/>
<rect x="1161" y="427" width="3" height="8" fill="#ff0000"/>
<rect x="1166" y="426" width="1" height="12" fill="#00bfff"/>
<rect x="1165" y="428" width="3" height="8" fill="#00bfff"/>
<rect x="1170" y="414" width="1" height="15" fill="#ff0000"/>
<rect x="1169" y="427" width="3" height="2" fill="#ff0000"/>
<rect x="1174" y="425" width="1" height="10" fill="#ff0000"/>
<rect x="1173" y="428" width="3" height="6" fill="#ff0000"/>
<rect x="1178" y="427" width="1" height="21" fill="#ff0000"/>
<rect x="1177" y="433" width="3" height="7" fill="#ff0000"/>
<rect x="1182" y="438" width="1" height="12" fill="#ff0000"/>
<rect x="1181" y="438" width="3" height="5" fill="#ff0000"/>
<rect x="1186" y="429" width="1" height="48" fill="#ff0000"/>
<rect x="1185" y="441" width="3" height="15" fill="#ff0000"/>
<rect x="1190" y="439" width="1" height="48" fill="#ff0000"/>
<rect x="1189" y="454" width="3" height="20" fill="#ff0000"/>
<rect x="1194" y="465" width="1" height="30" fill="#ff0000"/>
<rect x="1193" y="472" width="3" height="20" fill="#ff0000"/>
<rect x="1198" y="478" width="1" height="23" fill="#00bfff"/>
<rect x="1197" y="483" width="3" height="10" fill="#00bfff"/>
<rect x="1202" y="482" width="1" height="11" fill="#ff0000"/>
<rect x="1201" y="483" width="3" height="3" fill="#ff0000"/>
<rect x="1206" y="484" width="1" height="13" fill="#ff0000"/>
<rect x="1205" y="486" width="3" height="11" fill="#ff0000"/>
<rect x="1210" y="485" width="1" height="8" fill="#ff0000"/>
<rect x="1209" y="488" width="3" height="2" fill="#ff0000"/>
<rect x="1214" y="488" width="1" height="8" fill="#ff0000"/>
<rect x="1213" y="488" width="3" height="6" fill="#ff0000"/>
<rect x="1218" y="491" width="1" height="8" fill="#00bfff"/>
<rect x="1217" y="491" width="3" height="2" fill="#00bfff"/>
<rect x="1222" y="492" width="1" height="18" fill="#ff0000"/>
<rect x="1221" y="492" width="3" height="17" fill="#ff0000"/>
<rect x="1226" y="497" width="1" height="18" fill="#00bfff"/>
<rect x="1225" y="499" width="3" height="11" fill="#00bfff"/>
<rect x="1230" y="494" width="1" height="12" fill="#00bfff"/>
<rect x="1229" y="497" width="3" height="2" fill="#00bfff"/>
<rect x="1234" y="489" width="1" height="13" fill="#ff0000"/>
<rect x="1233" y="498" width="3" height="3" fill="#ff0000"/>
<rect x="1238" y="495" width="1" height="8" fill="#ff0000"/>
<rect x="1237" y="499" width="3" height="2" fill="#ff0000"/>
<rect x="1242" y="491" width="1" height="22" fill="#ff0000"/>
<rect x="1241" y="500" width="3" height="12" fill="#ff0000"/>
<rect x="1246" y="500" width="1" height="20" fill="#00bfff"/>
<rect x="1245" y="506" width="3" height="7" fill="#00bfff"/>
<rect x="1250" y="503" width="1" height="25" fill="#ff0000"/>
<rect x="1249" y="505" width="3" height="20" fill="#ff0000"/>
<rect x="1254" y="514" width="1" height="21" fill="#00bfff"/>
<rect x="1253" y="523" width="3" height="3" fill="#00bfff"/>
<rect x="1258" y="499" width="1" height="28" fill="#00bfff"/>
<rect x="1257" y="508" width="3" height="15" fill="#00bfff"/>
<rect x="1262" y="486" width="1" height="25" fill="#00bfff"/>
<rect x="1261" y="488" width="3" height="22" fill="#00bfff"/>
<rect x="1266" y="475" width="1" height="18" fill="#00bfff"/>
<rect x="1265" y="481" width="3" height="7" fill="#00bfff"/>
<rect x="1270" y="479" width="1" height="27" fill="#ff0000"/>
<rect x="1269" y="482" width="3" height="13" fill="#ff0000"/>
<rect x="1274" y="484" width="1" height="16" fill="#00bfff"/>
<rect x="1273" y="489" width="3" height="8" fill="#00bfff"/>
<rect x="1278" y="478" width="1" height="24" fill="#00bfff"/>
<rect x="1277" y="486" width="3" height="5" fill="#00bfff"/>
<rect x="1282" y="480" width="1" height="23" fill="#ff0000"/>
<rect x="1281" y="485" width="3" height="13" fill="#ff0000"/>
<rect x="1286" y="481" width="1" height="23" fill="#00bfff"/>
<rect x="1285" y="490" width="3" height="9" fill="#00bfff"/>
<rect x="1290" y="474" width="1" height="17" fill="#00bfff"/>
<rect x="1289" y="482" width="3" height="9" fill="#00bfff"/>
<rect x="1294" y="478" width="1" height="9" fill="#ff0000"/>
<rect x="1293" y="481" width="3" height="3" fill="#ff0000"/>
<rect x="1298" y="474" width="1" height="10" fill="#00bfff"/>
<rect x="1297" y="479" width="3" height="5" fill="#00bfff"/>
<rect x="1302" y="470" width="1" height="18" fill="#ff0000"/>
<rect x="1301" y="483" width="3" height="3" fill="#ff0000"/>
<rect x="1306" y="481" width="1" height="16" fill="#ff0000"/>
<rect x="1305" y="483" width="3" height="11" fill="#ff0000"/>
<rect x="1310" y="491" width="1" height="7" fill="#00bfff"/>
<rect x="1309" y="493" width="3" height="2" fill="#00bfff"/>
<rect x="1314" y="489" width="1" height="16" fill="#ff0000"/>
<rect x="1313" y="493" width="3" height="5" fill="#ff0000"/>
<rect x="1318" y="490" width="1" height="9" fill="#00bfff"/>
<rect x="1317" y="495" width="3" height="4" fill="#00bfff"/>
<rect x="1322" y="491" width="1" height="7" fill="#00ff00"/>
<rect x="1321" y="494" width="3" height="1" fill="#00ff00"/>
<rect x="1326" y="494" width="1" height="5" fill="#ff0000"/>
<rect x="1325" y="494" width="3" height="4" fill="#ff0000"/>
</g>
<g shape-rendering="crispEdges" stroke="#ffffff" stroke-width="1" fill="none">
<line x1="0" y1="21.5" x2="1709" y2="21.5" stroke-dasharray="18 6" stroke-dashoffset="10"/>
<line x1="0" y1="325.5" x2="1709" y2="325.5" stroke-dasharray="18 6" stroke-dashoffset="10"/>
</g>
<g shape-rendering="crispEdges" fill="#ffffff">
<rect x="814" y="327" width="3" height="1"/>
<rect x="817" y="328" width="4" height="1"/>
<rect x="821" y="329" width="4" height="1"/>
<rect x="825" y="330" width="5" height="1"/>
<rect x="830" y="331" width="2" height="1"/>
<rect x="838" y="333" width="4" height="1"/>
<rect x="842" y="334" width="5" height="1"/>
<rect x="847" y="335" width="4" height="1"/>
<rect x="851" y="336" width="4" height="1"/>
<rect x="855" y="337" width="1" height="1"/>
<rect x="862" y="338" width="2" height="1"/>
<rect x="864" y="339" width="4" height="1"/>
<rect x="868" y="340" width="5" height="1"/>
<rect x="873" y="341" width="4" height="1"/>
<rect x="877" y="342" width="3" height="1"/>
<rect x="886" y="344" width="4" height="1"/>
<rect x="890" y="345" width="4" height="1"/>
<rect x="894" y="346" width="4" height="1"/>
<rect x="898" y="347" width="5" height="1"/>
<rect x="903" y="348" width="1" height="1"/>
<rect x="910" y="349" width="1" height="1"/>
<rect x="911" y="350" width="4" height="1"/>
<rect x="915" y="351" width="5" height="1"/>
<rect x="920" y="352" width="4" height="1"/>
<rect x="924" y="353" width="4" height="1"/>
<rect x="934" y="355" width="3" height="1"/>
<rect x="937" y="356" width="4" height="1"/>
<rect x="941" y="357" width="4" height="1"/>
<rect x="945" y="358" width="5" height="1"/>
<rect x="950" y="359" width="2" height="1"/>
<rect x="958" y="361" width="5" height="1"/>
<rect x="963" y="362" width="4" height="1"/>
<rect x="967" y="363" width="4" height="1"/>
<rect x="971" y="364" width="5" height="1"/>
<rect x="982" y="366" width="2" height="1"/>
<rect x="984" y="367" width="4" height="1"/>
<rect x="988" y="368" width="5" height="1"/>
<rect x="993" y="369" width="4" height="1"/>
<rect x="997" y="370" width="3" height="1"/>
<rect x="1006" y="372" width="4" height="1"/>
<rect x="1010" y="373" width="4" height="1"/>
<rect x="1014" y="374" width="4" height="1"/>
<rect x="1018" y="375" width="5" height="1"/>
<rect x="1023" y="376" width="1" height="1"/>
<rect x="1030" y="377" width="1" height="1"/>
<rect x="1031" y="378" width="5" height="1"/>
<rect x="1036" y="379" width="4" height="1"/>
<rect x="1040" y="380" width="4" height="1"/>
<rect x="1044" y="381" width="4" height="1"/>
<rect x="1054" y="383" width="3" height="1"/>
<rect x="1057" y="384" width="4" height="1"/>
<rect x="1061" y="385" width="5" height="1"/>
<rect x="1066" y="386" width="4" height="1"/>
<rect x="1070" y="387" width="2" height="1"/>
<rect x="1078" y="388" width="1" height="1"/>
<rect x="1079" y="389" width="4" height="1"/>
<rect x="1083" y="390" width="4" height="1"/>
<rect x="1087" y="391" width="4" height="1"/>
<rect x="1091" y="392" width="5" height="1"/>
<rect x="1102" y="394" width="2" height="1"/>
<rect x="1104" y="395" width="5" height="1"/>
<rect x="1109" y="396" width="4" height="1"/>
<rect x="1113" y="397" width="4" height="1"/>
<rect x="1117" y="398" width="3" height="1"/>
<rect x="1126" y="400" width="4" height="1"/>
<rect x="1130" y="401" width="4" height="1"/>
<rect x="1134" y="402" width="5" height="1"/>
<rect x="1139" y="403" width="4" height="1"/>
<rect x="1143" y="404" width="1" height="1"/>
<rect x="1150" y="405" width="1" height="1"/>
<rect x="1151" y="406" width="5" height="1"/>
<rect x="1156" y="407" width="4" height="1"/>
<rect x="1160" y="408" width="4" height="1"/>
<rect x="1164" y="409" width="4" height="1"/>
<rect x="1174" y="411" width="3" height="1"/>
<rect x="1177" y="412" width="5" height="1"/>
<rect x="1182" y="413" width="4" height="1"/>
<rect x="1186" y="414" width="4" height="1"/>
<rect x="1190" y="415" width="2" height="1"/>
<rect x="1198" y="416" width="1" height="1"/>
<rect x="1199" y="417" width="4" height="1"/>
<rect x="1203" y="418" width="4" height="1"/>
<rect x="1207" y="419" width="5" height="1"/>
<rect x="1212" y="420" width="4" height="1"/>
<rect x="1222" y="422" width="2" height="1"/>
<rect x="1224" y="423" width="5" height="1"/>
<rect x="1229" y="424" width="4" height="1"/>
<rect x="1233" y="425" width="4" height="1"/>
<rect x="1237" y="426" width="3" height="1"/>
<rect x="1246" y="428" width="4" height="1"/>
<rect x="1250" y="429" width="4" height="1"/>
<rect x="1254" y="430" width="5" height="1"/>
<rect x="1259" y="431" width="4" height="1"/>
<rect x="1263" y="432" width="1" height="1"/>
<rect x="1270" y="433" width="2" height="1"/>
<rect x="1272" y="434" width="4" height="1"/>
<rect x="1276" y="435" width="4" height="1"/>
<rect x="1280" y="436" width="4" height="1"/>
<rect x="1284" y="437" width="4" height="1"/>
<rect x="1294" y="439" width="3" height="1"/>
<rect x="1297" y="440" width="5" height="1"/>
<rect x="1302" y="441" width="4" height="1"/>
<rect x="1306" y="442" width="4" height="1"/>
<rect x="1310" y="443" width="2" height="1"/>
<rect x="1318" y="444" width="1" height="1"/>
<rect x="1319" y="445" width="4" height="1"/>
<rect x="1323" y="446" width="4" height="1"/>
<rect x="1327" y="447" width="5" height="1"/>
<rect x="1332" y="448" width="4" height="1"/>
<rect x="1342" y="450" width="3" height="1"/>
<rect x="1345" y="451" width="4" height="1"/>
<rect x="1349" y="452" width="4" height="1"/>
<rect x="1353" y="453" width="4" height="1"/>
<rect x="1357" y="454" width="3" height="1"/>
<rect x="1366" y="456" width="4" height="1"/>
<rect x="1370" y="457" width="5" height="1"/>
<rect x="1375" y="458" width="4" height="1"/>
<rect x="1379" y="459" width="4" height="1"/>
<rect x="1383" y="460" width="1" height="1"/>
<rect x="1390" y="461" width="2" height="1"/>
<rect x="1392" y="462" width="4" height="1"/>
<rect x="1396" y="463" width="4" height="1"/>
<rect x="1400" y="464" width="5" height="1"/>
<rect x="1405" y="465" width="3" height="1"/>
<rect x="1414" y="467" width="4" height="1"/>
<rect x="1418" y="468" width="4" height="1"/>
<rect x="1422" y="469" width="4" height="1"/>
<rect x="1426" y="470" width="4" height="1"/>
<rect x="1430" y="471" width="2" height="1"/>
<rect x="1438" y="472" width="1" height="1"/>
<rect x="1439" y="473" width="4" height="1"/>
<rect x="1443" y="474" width="5" height="1"/>
<rect x="1448" y="475" width="4" height="1"/>
<rect x="1452" y="476" width="4" height="1"/>
<rect x="654" y="371" width="2" height="1"/>
<rect x="656" y="372" width="4" height="1"/>
<rect x="660" y="373" width="4" height="1"/>
<rect x="664" y="374" width="3" height="1"/>
<rect x="667" y="375" width="4" height="1"/>
<rect x="671" y="376" width="1" height="1"/>
<rect x="678" y="378" width="4" height="1"/>
<rect x="682" y="379" width="4" height="1"/>
<rect x="686" y="380" width="3" height="1"/>
<rect x="689" y="381" width="4" height="1"/>
<rect x="693" y="382" width="3" height="1"/>
<rect x="702" y="384" width="2" height="1"/>
<rect x="704" y="385" width="4" height="1"/>
<rect x="708" y="386" width="3" height="1"/>
<rect x="711" y="387" width="4" height="1"/>
<rect x="715" y="388" width="4" height="1"/>
<rect x="719" y="389" width="1" height="1"/>
<rect x="726" y="391" width="4" height="1"/>
<rect x="730" y="392" width="4" height="1"/>
<rect x="734" y="393" width="3" height="1"/>
<rect x="737" y="394" width="4" height="1"/>
<rect x="741" y="395" width="3" height="1"/>
<rect x="750" y="397" width="2" height="1"/>
<rect x="752" y="398" width="4" height="1"/>
<rect x="756" y="399" width="3" height="1"/>
<rect x="759" y="400" width="4" height="1"/>
<rect x="763" y="401" width="4" height="1"/>
<rect x="767" y="402" width="1" height="1"/>
<rect x="774" y="404" width="4" height="1"/>
<rect x="778" y="405" width="3" height="1"/>
<rect x="781" y="406" width="4" height="1"/>
<rect x="785" y="407" width="4" height="1"/>
<rect x="789" y="408" width="3" height="1"/>
<rect x="798" y="410" width="2" height="1"/>
<rect x="800" y="411" width="3" height="1"/>
<rect x="803" y="412" width="4" height="1"/>
<rect x="807" y="413" width="4" height="1"/>
<rect x="811" y="414" width="4" height="1"/>
<rect x="815" y="415" width="1" height="1"/>
<rect x="822" y="417" width="4" height="1"/>
<rect x="826" y="418" width="3" height="1"/>
<rect x="829" y="419" width="4" height="1"/>
<rect x="833" y="420" width="4" height="1"/>
<rect x="837" y="421" width="3" height="1"/>
<rect x="846" y="423" width="2" height="1"/>
<rect x="848" y="424" width="3" height="1"/>
<rect x="851" y="425" width="4" height="1"/>
<rect x="855" y="426" width="4" height="1"/>
<rect x="859" y="427" width="3" height="1"/>
<rect x="862" y="428" width="2" height="1"/>
<rect x="870" y="430" width="3" height="1"/>
<rect x="873" y="431" width="4" height="1"/>
<rect x="877" y="432" width="4" height="1"/>
<rect x="881" y="433" width="3" height="1"/>
<rect x="884" y="434" width="4" height="1"/>
<rect x="894" y="436" width="1" height="1"/>
<rect x="895" y="437" width="4" height="1"/>
<rect x="899" y="438" width="4" height="1"/>
<rect x="903" y="439" width="4" height="1"/>
<rect x="907" y="440" width="3" height="1"/>
<rect x="910" y="441" width="2" height="1"/>
<rect x="918" y="443" width="3" height="1"/>
<rect x="921" y="444" width="4" height="1"/>
<rect x="925" y="445" width="4" height="1"/>
<rect x="929" y="446" width="3" height="1"/>
<rect x="932" y="447" width="4" height="1"/>
<rect x="942" y="449" width="1" height="1"/>
<rect x="943" y="450" width="4" height="1"/>
<rect x="947" y="451" width="4" height="1"/>
<rect x="951" y="452" width="3" height="1"/>
<rect x="954" y="453" width="4" height="1"/>
<rect x="958" y="454" width="2" height="1"/>
<rect x="966" y="456" width="3" height="1"/>
<rect x="969" y="457" width="4" height="1"/>
<rect x="973" y="458" width="3" height="1"/>
<rect x="976" y="459" width="4" height="1"/>
<rect x="980" y="460" width="4" height="1"/>
<rect x="990" y="462" width="1" height="1"/>
<rect x="991" y="463" width="4" height="1"/>
<rect x="995" y="464" width="4" height="1"/>
<rect x="999" y="465" width="3" height="1"/>
<rect x="1002" y="466" width="4" height="1"/>
<rect x="1006" y="467" width="2" height="1"/>
<rect x="1014" y="469" width="3" height="1"/>
<rect x="1017" y="470" width="4" height="1"/>
<rect x="1021" y="471" width="3" height="1"/>
<rect x="1024" y="472" width="4" height="1"/>
<rect x="1028" y="473" width="4" height="1"/>
<rect x="1038" y="475" width="1" height="1"/>
<rect x="1039" y="476" width="4" height="1"/>
<rect x="1043" y="477" width="3" height="1"/>
<rect x="1046" y="478" width="4" height="1"/>
<rect x="1050" y="479" width="4" height="1"/>
<rect x="1054" y="480" width="2" height="1"/>
<rect x="1062" y="482" width="3" height="1"/>
<rect x="1065" y="483" width="3" height="1"/>
<rect x="1068" y="484" width="4" height="1"/>
<rect x="1072" y="485" width="4" height="1"/>
<rect x="1076" y="486" width="3" height="1"/>
<rect x="1079" y="487" width="1" height="1"/>
<rect x="1086" y="488" width="1" height="1"/>
<rect x="1087" y="489" width="4" height="1"/>
<rect x="1091" y="490" width="3" height="1"/>
<rect x="1094" y="491" width="4" height="1"/>
<rect x="1098" y="492" width="4" height="1"/>
<rect x="1102" y="493" width="2" height="1"/>
<rect x="1110" y="495" width="3" height="1"/>
<rect x="1113" y="496" width="3" height="1"/>
<rect x="1116" y="497" width="4" height="1"/>
<rect x="1120" y="498" width="4" height="1"/>
<rect x="1124" y="499" width="3" height="1"/>
<rect x="1127" y="500" width="1" height="1"/>
<rect x="1134" y="501" width="1" height="1"/>
<rect x="1135" y="502" width="3" height="1"/>
<rect x="1138" y="503" width="4" height="1"/>
<rect x="1142" y="504" width="4" height="1"/>
<rect x="1146" y="505" width="3" height="1"/>
<rect x="1149" y="506" width="3" height="1"/>
<rect x="1158" y="508" width="2" height="1"/>
<rect x="1160" y="509" width="4" height="1"/>
<rect x="1164" y="510" width="4" height="1"/>
<rect x="1168" y="511" width="3" height="1"/>
<rect x="1171" y="512" width="4" height="1"/>
<rect x="1175" y="513" width="1" height="1"/>
<rect x="1182" y="514" width="1" height="1"/>
<rect x="1183" y="515" width="3" height="1"/>
<rect x="1186" y="516" width="4" height="1"/>
<rect x="1190" y="517" width="4" height="1"/>
<rect x="1194" y="518" width="3" height="1"/>
<rect x="1197" y="519" width="3" height="1"/>
<rect x="1206" y="521" width="2" height="1"/>
<rect x="1208" y="522" width="4" height="1"/>
<rect x="1212" y="523" width="4" height="1"/>
<rect x="1216" y="524" width="3" height="1"/>
<rect x="1219" y="525" width="4" height="1"/>
<rect x="1223" y="526" width="1" height="1"/>
<rect x="1230" y="528" width="4" height="1"/>
<rect x="1234" y="529" width="4" height="1"/>
<rect x="1238" y="530" width="3" height="1"/>
<rect x="1241" y="531" width="4" height="1"/>
<rect x="1245" y="532" width="3" height="1"/>
<rect x="1254" y="534" width="2" height="1"/>
<rect x="1256" y="535" width="4" height="1"/>
<rect x="1260" y="536" width="3" height="1"/>
<rect x="1263" y="537" width="4" height="1"/>
<rect x="1267" y="538" width="4" height="1"/>
<rect x="1271" y="539" width="1" height="1"/>
<rect x="1278" y="541" width="4" height="1"/>
<rect x="1282" y="542" width="4" height="1"/>
<rect x="1286" y="543" width="3" height="1"/>
<rect x="1289" y="544" width="4" height="1"/>
<rect x="1293" y="545" width="3" height="1"/>
<rect x="1302" y="547" width="2" height="1"/>
<rect x="1304" y="548" width="4" height="1"/>
<rect x="1308" y="549" width="3" height="1"/>
<rect x="1311" y="550" width="4" height="1"/>
<rect x="1315" y="551" width="4" height="1"/>
<rect x="1319" y="552" width="1" height="1"/>
<rect x="1326" y="554" width="4" height="1"/>
<rect x="1330" y="555" width="3" height="1"/>
<rect x="1333" y="556" width="4" height="1"/>
<rect x="1337" y="557" width="4" height="1"/>
<rect x="1341" y="558" width="3" height="1"/>
<rect x="1350" y="560" width="2" height="1"/>
<rect x="1352" y="561" width="3" height="1"/>
<rect x="1355" y="562" width="4" height="1"/>
<rect x="1359" y="563" width="4" height="1"/>
<rect x="1363" y="564" width="4" height="1"/>
<rect x="1367" y="565" width="1" height="1"/>
<rect x="1374" y="567" width="4" height="1"/>
<rect x="1378" y="568" width="3" height="1"/>
<rect x="1381" y="569" width="4" height="1"/>
<rect x="1385" y="570" width="4" height="1"/>
<rect x="1389" y="571" width="3" height="1"/>
<rect x="1398" y="573" width="2" height="1"/>
<rect x="1400" y="574" width="3" height="1"/>
<rect x="1403" y="575" width="4" height="1"/>
<rect x="1407" y="576" width="4" height="1"/>
<rect x="1411" y="577" width="3" height="1"/>
<rect x="1414" y="578" width="2" height="1"/>
<rect x="1422" y="580" width="3" height="1"/>
<rect x="1425" y="581" width="4" height="1"/>
<rect x="1429" y="582" width="4" height="1"/>
<rect x="1433" y="583" width="3" height="1"/>
<rect x="1436" y="584" width="4" height="1"/>
<rect x="1446" y="586" width="1" height="1"/>
<rect x="1447" y="587" width="4" height="1"/>
<rect x="1451" y="588" width="4" height="1"/>
<rect x="1455" y="589" width="4" height="1"/>
<rect x="1459" y="590" width="3" height="1"/>
<rect x="1462" y="591" width="2" height="1"/>
<rect x="1470" y="593" width="3" height="1"/>
<rect x="1473" y="594" width="4" height="1"/>
<rect x="1477" y="595" width="4" height="1"/>
<rect x="1481" y="596" width="1" height="1"/>
</g>
<g shape-rendering="crispEdges" fill="#ffffff">
<rect x="0" y="643" width="1710" height="1"/>
<rect x="0" y="645" width="1710" height="1"/>
<rect x="0" y="685" width="1710" height="1"/>
<rect x="0" y="687" width="1710" height="1"/>
<rect x="1709" y="0" width="1" height="643"/>
<rect x="1709" y="645" width="1" height="41"/>
<rect x="1709" y="687" width="1" height="44"/>
</g>
<g shape-rendering="crispEdges" fill="#3cb371">
<rect x="1" y="657" width="3" height="19"/>
<rect x="5" y="657" width="3" height="19"/>
<rect x="9" y="657" width="3" height="20"/>
<rect x="13" y="657" width="3" height="20"/>
<rect x="17" y="657" width="3" height="20"/>
<rect x="21" y="657" width="3" height="19"/>
<rect x="25" y="657" width="3" height="18"/>
<rect x="29" y="657" width="3" height="18"/>
<rect x="33" y="657" width="3" height="18"/>
<rect x="37" y="657" width="3" height="17"/>
<rect x="41" y="657" width="3" height="16"/>
<rect x="45" y="657" width="3" height="15"/>
<rect x="49" y="657" width="3" height="16"/>
<rect x="53" y="657" width="3" height="15"/>
<rect x="57" y="657" width="3" height="15"/>
<rect x="61" y="657" width="3" height="15"/>
<rect x="65" y="657" width="3" height="15"/>
<rect x="69" y="657" width="3" height="15"/>
<rect x="73" y="657" width="3" height="15"/>
<rect x="77" y="657" width="3" height="16"/>
<rect x="81" y="657" width="3" height="14"/>
<rect x="85" y="657" width="3" height="14"/>
<rect x="89" y="657" width="3" height="14"/>
<rect x="93" y="657" width="3" height="13"/>
<rect x="97" y="657" width="3" height="13"/>
<rect x="101" y="657" width="3" height="11"/>
<rect x="105" y="657" width="3" height="11"/>
<rect x="109" y="657" width="3" height="11"/>
<rect x="113" y="657" width="3" height="11"/>
<rect x="117" y="657" width="3" height="11"/>
<rect x="121" y="657" width="3" height="10"/>
<rect x="125" y="657" width="3" height="10"/>
<rect x="129" y="657" width="3" height="8"/>
<rect x="133" y="657" width="3" height="8"/>
<rect x="137" y="657" width="3" height="8"/>
<rect x="141" y="657" width="3" height="6"/>
<rect x="145" y="657" width="3" height="7"/>
<rect x="149" y="657" width="3" height="7"/>
<rect x="153" y="657" width="3" height="8"/>
<rect x="157" y="657" width="3" height="8"/>
<rect x="161" y="657" width="3" height="9"/>
<rect x="165" y="657" width="3" height="10"/>
<rect x="169" y="657" width="3" height="10"/>
<rect x="173" y="657" width="3" height="11"/>
<rect x="177" y="657" width="3" height="10"/>
<rect x="181" y="657" width="3" height="9"/>
<rect x="185" y="657" width="3" height="9"/>
<rect x="189" y="657" width="3" height="9"/>
<rect x="193" y="657" width="3" height="9"/>
<rect x="197" y="657" width="3" height="9"/>
<rect x="201" y="657" width="3" height="9"/>
<rect x="205" y="657" width="3" height="8"/>
<rect x="209" y="657" width="3" height="7"/>
<rect x="213" y="657" width="3" height="6"/>
<rect x="217" y="657" width="3" height="5"/>
<rect x="221" y="657" width="3" height="5"/>
<rect x="225" y="657" width="3" height="4"/>
<rect x="229" y="657" width="3" height="5"/>
<rect x="233" y="657" width="3" height="4"/>
<rect x="237" y="657" width="3" height="5"/>
<rect x="241" y="657" width="3" height="6"/>
<rect x="245" y="657" width="3" height="6"/>
<rect x="249" y="657" width="3" height="7"/>
<rect x="253" y="657" width="3" height="7"/>
<rect x="257" y="657" width="3" height="7"/>
<rect x="261" y="657" width="3" height="9"/>
<rect x="265" y="657" width="3" height="10"/>
<rect x="269" y="657" width="3" height="12"/>
<rect x="273" y="657" width="3" height="13"/>
<rect x="277" y="657" width="3" height="14"/>
<rect x="281" y="657" width="3" height="14"/>
<rect x="285" y="657" width="3" height="15"/>
<rect x="289" y="657" width="3" height="14"/>
<rect x="293" y="657" width="3" height="14"/>
<rect x="297" y="657" width="3" height="14"/>
<rect x="301" y="657" width="3" height="13"/>
<rect x="305" y="657" width="3" height="12"/>
<rect x="309" y="657" width="3" height="12"/>
<rect x="313" y="657" width="3" height="11"/>
<rect x="317" y="657" width="3" height="9"/>
<rect x="321" y="657" width="3" height="8"/>
<rect x="325" y="657" width="3" height="7"/>
<rect x="329" y="657" width="3" height="6"/>
<rect x="333" y="657" width="3" height="6"/>
<rect x="337" y="657" width="3" height="6"/>
<rect x="341" y="657" width="3" height="6"/>
<rect x="345" y="657" width="3" height="6"/>
<rect x="349" y="657" width="3" height="5"/>
<rect x="353" y="657" width="3" height="5"/>
<rect x="357" y="657" width="3" height="4"/>
<rect x="361" y="657" width="3" height="3"/>
<rect x="365" y="657" width="3" height="3"/>
<rect x="369" y="657" width="3" height="3"/>
<rect x="373" y="657" width="3" height="3"/>
<rect x="377" y="657" width="3" height="3"/>
<rect x="381" y="657" width="3" height="2"/>
<rect x="385" y="657" width="3" height="1"/>
<rect x="389" y="655" width="3" height="2"/>
<rect x="393" y="654" width="3" height="3"/>
<rect x="397" y="653" width="3" height="4"/>
<rect x="401" y="652" width="3" height="5"/>
<rect x="405" y="651" width="3" height="6"/>
<rect x="409" y="651" width="3" height="6"/>
<rect x="413" y="651" width="3" height="6"/>
<rect x="417" y="651" width="3" height="6"/>
<rect x="421" y="651" width="3" height="6"/>
<rect x="425" y="650" width="3" height="7"/>
<rect x="429" y="651" width="3" height="6"/>
<rect x="433" y="652" width="3" height="5"/>
<rect x="437" y="653" width="3" height="4"/>
<rect x="441" y="653" width="3" height="4"/>
<rect x="445" y="654" width="3" height="3"/>
<rect x="449" y="654" width="3" height="3"/>
<rect x="453" y="654" width="3" height="3"/>
<rect x="457" y="654" width="3" height="3"/>
<rect x="461" y="654" width="3" height="3"/>
<rect x="465" y="654" width="3" height="3"/>
<rect x="469" y="655" width="3" height="2"/>
<rect x="473" y="655" width="3" height="2"/>
<rect x="477" y="655" width="3" height="2"/>
<rect x="481" y="655" width="3" height="2"/>
<rect x="485" y="655" width="3" height="2"/>
<rect x="489" y="655" width="3" height="2"/>
<rect x="493" y="655" width="3" height="2"/>
<rect x="497" y="655" width="3" height="2"/>
<rect x="501" y="655" width="3" height="2"/>
<rect x="505" y="655" width="3" height="2"/>
<rect x="509" y="655" width="3" height="2"/>
<rect x="513" y="655" width="3" height="2"/>
<rect x="517" y="656" width="3" height="1"/>
<rect x="521" y="656" width="3" height="1"/>
<rect x="525" y="656" width="3" height="1"/>
<rect x="529" y="657" width="3" height="1"/>
<rect x="533" y="657" width="3" height="1"/>
<rect x="537" y="657" width="3" height="1"/>
<rect x="541" y="657" width="3" height="2"/>
<rect x="545" y="657" width="3" height="2"/>
<rect x="549" y="657" width="3" height="2"/>
<rect x="557" y="656" width="3" height="1"/>
<rect x="561" y="656" width="3" height="1"/>
<rect x="565" y="655" width="3" height="2"/>
<rect x="569" y="654" width="3" height="3"/>
<rect x="573" y="654" width="3" height="3"/>
<rect x="577" y="653" width="3" height="4"/>
<rect x="581" y="653" width="3" height="4"/>
<rect x="585" y="653" width="3" height="4"/>
<rect x="589" y="652" width="3" height="5"/>
<rect x="593" y="652" width="3" height="5"/>
<rect x="597" y="652" width="3" height="5"/>
<rect x="601" y="652" width="3" height="5"/>
<rect x="605" y="652" width="3" height="5"/>
<rect x="609" y="651" width="3" height="6"/>
<rect x="613" y="651" width="3" height="6"/>
<rect x="617" y="651" width="3" height="6"/>
<rect x="621" y="651" width="3" height="6"/>
<rect x="625" y="652" width="3" height="5"/>
<rect x="629" y="652" width="3" height="5"/>
<rect x="633" y="652" width="3" height="5"/>
<rect x="637" y="652" width="3" height="5"/>
<rect x="641" y="652" width="3" height="5"/>
<rect x="645" y="652" width="3" height="5"/>
<rect x="649" y="652" width="3" height="5"/>
<rect x="653" y="652" width="3" height="5"/>
<rect x="657" y="653" width="3" height="4"/>
<rect x="661" y="655" width="3" height="2"/>
<rect x="665" y="657" width="3" height="1"/>
<rect x="669" y="657" width="3" height="1"/>
<rect x="673" y="657" width="3" height="2"/>
<rect x="677" y="657" width="3" height="2"/>
<rect x="681" y="657" width="3" height="2"/>
<rect x="685" y="657" width="3" height="1"/>
<rect x="689" y="656" width="3" height="1"/>
<rect x="693" y="655" width="3" height="2"/>
<rect x="697" y="655" width="3" height="2"/>
<rect x="701" y="655" width="3" height="2"/>
<rect x="725" y="657" width="3" height="2"/>
<rect x="729" y="657" width="3" height="4"/>
<rect x="733" y="657" width="3" height="5"/>
<rect x="737" y="657" width="3" height="7"/>
<rect x="741" y="657" width="3" height="8"/>
<rect x="745" y="657" width="3" height="8"/>
<rect x="749" y="657" width="3" height="8"/>
<rect x="753" y="657" width="3" height="8"/>
<rect x="757" y="657" width="3" height="8"/>
<rect x="761" y="657" width="3" height="8"/>
<rect x="765" y="657" width="3" height="8"/>
<rect x="769" y="657" width="3" height="8"/>
<rect x="773" y="657" width="3" height="9"/>
<rect x="777" y="657" width="3" height="9"/>
<rect x="781" y="657" width="3" height="9"/>
<rect x="785" y="657" width="3" height="9"/>
<rect x="789" y="657" width="3" height="9"/>
<rect x="793" y="657" width="3" height="9"/>
<rect x="797" y="657" width="3" height="10"/>
<rect x="801" y="657" width="3" height="11"/>
<rect x="805" y="657" width="3" height="13"/>
<rect x="809" y="657" width="3" height="14"/>
<rect x="813" y="657" width="3" height="15"/>
<rect x="817" y="657" width="3" height="19"/>
<rect x="821" y="657" width="3" height="22"/>
<rect x="825" y="657" width="3" height="24"/>
<rect x="829" y="657" width="3" height="25"/>
<rect x="833" y="657" width="3" height="26"/>
<rect x="837" y="657" width="3" height="27"/>
<rect x="841" y="657" width="3" height="26"/>
<rect x="845" y="657" width="3" height="24"/>
<rect x="849" y="657" width="3" height="22"/>
<rect x="853" y="657" width="3" height="19"/>
<rect x="857" y="657" width="3" height="18"/>
<rect x="861" y="657" width="3" height="16"/>
<rect x="865" y="657" width="3" height="15"/>
<rect x="869" y="657" width="3" height="14"/>
<rect x="873" y="657" width="3" height="12"/>
<rect x="877" y="657" width="3" height="11"/>
<rect x="881" y="657" width="3" height="10"/>
<rect x="885" y="657" width="3" height="9"/>
<rect x="889" y="657" width="3" height="8"/>
<rect x="893" y="657" width="3" height="7"/>
<rect x="897" y="657" width="3" height="8"/>
<rect x="901" y="657" width="3" height="8"/>
<rect x="905" y="657" width="3" height="7"/>
<rect x="909" y="657" width="3" height="7"/>
<rect x="913" y="657" width="3" height="7"/>
<rect x="917" y="657" width="3" height="6"/>
<rect x="921" y="657" width="3" height="6"/>
<rect x="925" y="657" width="3" height="6"/>
<rect x="929" y="657" width="3" height="6"/>
<rect x="933" y="657" width="3" height="5"/>
<rect x="937" y="657" width="3" height="5"/>
<rect x="941" y="657" width="3" height="5"/>
<rect x="945" y="657" width="3" height="5"/>
<rect x="949" y="657" width="3" height="5"/>
<rect x="953" y="657" width="3" height="4"/>
<rect x="957" y="657" width="3" height="4"/>
<rect x="961" y="657" width="3" height="6"/>
<rect x="965" y="657" width="3" height="6"/>
<rect x="969" y="657" width="3" height="8"/>
<rect x="973" y="657" width="3" height="11"/>
<rect x="977" y="657" width="3" height="12"/>
<rect x="981" y="657" width="3" height="15"/>
<rect x="985" y="657" width="3" height="15"/>
<rect x="989" y="657" width="3" height="16"/>
<rect x="993" y="657" width="3" height="16"/>
<rect x="997" y="657" width="3" height="16"/>
<rect x="1001" y="657" width="3" height="15"/>
<rect x="1005" y="657" width="3" height="14"/>
<rect x="1009" y="657" width="3" height="12"/>
<rect x="1013" y="657" width="3" height="11"/>
<rect x="1017" y="657" width="3" height="10"/>
<rect x="1021" y="657" width="3" height="10"/>
<rect x="1025" y="657" width="3" height="9"/>
<rect x="1029" y="657" width="3" height="8"/>
<rect x="1033" y="657" width="3" height="8"/>
<rect x="1037" y="657" width="3" height="7"/>
<rect x="1041" y="657" width="3" height="7"/>
<rect x="1045" y="657" width="3" height="7"/>
<rect x="1049" y="657" width="3" height="7"/>
<rect x="1053" y="657" width="3" height="6"/>
<rect x="1057" y="657" width="3" height="6"/>
<rect x="1061" y="657" width="3" height="5"/>
<rect x="1065" y="657" width="3" height="5"/>
<rect x="1069" y="657" width="3" height="4"/>
<rect x="1073" y="657" width="3" height="4"/>
<rect x="1077" y="657" width="3" height="3"/>
<rect x="1081" y="657" width="3" height="1"/>
<rect x="1085" y="657" width="3" height="1"/>
<rect x="1089" y="657" width="3" height="2"/>
<rect x="1093" y="657" width="3" height="2"/>
<rect x="1097" y="657" width="3" height="2"/>
<rect x="1101" y="657" width="3" height="4"/>
<rect x="1105" y="657" width="3" height="4"/>
<rect x="1109" y="657" width="3" height="4"/>
<rect x="1113" y="657" width="3" height="4"/>
<rect x="1117" y="657" width="3" height="3"/>
<rect x="1121" y="657" width="3" height="3"/>
<rect x="1125" y="657" width="3" height="2"/>
<rect x="1129" y="657" width="3" height="2"/>
<rect x="1133" y="657" width="3" height="2"/>
<rect x="1137" y="657" width="3" height="2"/>
<rect x="1141" y="657" width="3" height="1"/>
<rect x="1145" y="657" width="3" height="1"/>
<rect x="1149" y="657" width="3" height="1"/>
<rect x="1153" y="656" width="3" height="1"/>
<rect x="1165" y="657" width="3" height="2"/>
<rect x="1169" y="657" width="3" height="2"/>
<rect x="1173" y="657" width="3" height="2"/>
<rect x="1177" y="657" width="3" height="3"/>
<rect x="1181" y="657" width="3" height="3"/>
<rect x="1185" y="657" width="3" height="4"/>
<rect x="1189" y="657" width="3" height="6"/>
<rect x="1193" y="657" width="3" height="8"/>
<rect x="1197" y="657" width="3" height="10"/>
<rect x="1201" y="657" width="3" height="11"/>
<rect x="1205" y="657" width="3" height="12"/>
<rect x="1209" y="657" width="3" height="12"/>
<rect x="1213" y="657" width="3" height="13"/>
<rect x="1217" y="657" width="3" height="13"/>
<rect x="1221" y="657" width="3" height="14"/>
<rect x="1225" y="657" width="3" height="14"/>
<rect x="1229" y="657" width="3" height="14"/>
<rect x="1233" y="657" width="3" height="14"/>
<rect x="1237" y="657" width="3" height="13"/>
<rect x="1241" y="657" width="3" height="13"/>
<rect x="1245" y="657" width="3" height="13"/>
<rect x="1249" y="657" width="3" height="14"/>
<rect x="1253" y="657" width="3" height="14"/>
<rect x="1257" y="657" width="3" height="14"/>
<rect x="1261" y="657" width="3" height="12"/>
<rect x="1265" y="657" width="3" height="10"/>
<rect x="1269" y="657" width="3" height="9"/>
<rect x="1273" y="657" width="3" height="8"/>
<rect x="1277" y="657" width="3" height="7"/>
<rect x="1281" y="657" width="3" height="6"/>
<rect x="1285" y="657" width="3" height="6"/>
<rect x="1289" y="657" width="3" height="5"/>
<rect x="1293" y="657" width="3" height="4"/>
<rect x="1297" y="657" width="3" height="3"/>
<rect x="1301" y="657" width="3" height="3"/>
<rect x="1305" y="657" width="3" height="3"/>
<rect x="1309" y="657" width="3" height="3"/>
<rect x="1313" y="657" width="3" height="3"/>
<rect x="1317" y="657" width="3" height="3"/>
<rect x="1321" y="657" width="3" height="3"/>
<rect x="1325" y="657" width="3" height="3"/>
</g>
<polyline fill="none" stroke="#ff0000" stroke-width="1" shape-rendering="crispEdges" points="0.0,667.2 5.0,669.1 12.6,672.3 25.1,675.4 42.7,675.4 51.5,673.9 71.6,672.3 99.2,671.0 115.6,669.1 131.9,666.9 140.7,665.6 152.0,664.4 172.1,664.4 180.9,666.4 206.0,666.4 220.0,664.1 220.0,664.4 223.8,663.5 231.9,663.5 232.6,662.6 240.1,662.6 240.7,661.6 256.4,661.6 257.1,662.6 264.0,662.6 265.2,663.5 268.4,663.8 272.8,665.4 276.5,666.4 284.7,666.6 288.5,667.6 292.9,669.1 300.4,669.8 301.7,670.4 311.7,670.4 313.0,669.5 319.2,669.5 320.5,668.5 324.3,667.6 328.0,666.6 333.1,665.6 339.3,665.4 340.6,664.5 344.4,663.5 351.9,663.5 353.2,662.5 359.4,662.5 360.7,661.6 370.8,661.6 372.6,660.6 383.3,660.6 384.6,659.7 390.9,659.7 392.7,658.4 395.9,658.2 399.6,656.6 404.7,655.9 408.4,655.1 412.2,654.1 419.7,653.8 421.0,652.8 427.3,652.5 428.5,651.8 440.0,651.8 440.0,651.8 444.4,651.8 445.0,652.5 456.3,652.5 457.6,653.4 468.3,653.4 469.5,654.4 520.4,654.4 521.7,655.3 532.3,655.3 533.6,656.2 544.3,656.2 545.5,657.4 567.5,657.4 568.8,656.6 579.4,656.6 580.7,655.6 583.2,655.3 584.5,654.7 591.4,654.7 592.6,653.4 603.3,653.4 604.6,652.5 623.4,652.5 624.7,651.5 656.1,651.5 657.3,652.5 660.0,652.5 660.0,652.5 664.4,652.5 665.7,653.4 668.8,653.8 670.1,654.4 676.3,654.4 677.6,655.3 680.7,655.7 682.0,656.6 688.3,656.6 689.5,657.2 698.9,657.2 700.2,656.3 732.2,656.3 733.5,657.2 736.6,657.6 737.9,658.4 743.5,659.1 745.4,660.3 747.9,660.7 753.0,662.6 756.7,662.8 758.0,663.5 764.3,663.5 765.5,664.4 788.1,664.4 789.4,665.4 799.4,665.4 800.7,666.0 804.5,666.4 812.6,666.6 813.9,667.5 816.4,667.6 819.5,668.5 822.1,670.4 827.1,671.4 829.6,672.9 833.4,674.2 837.1,676.7 840.9,677.9 844.7,678.5 848.4,679.8 849.7,680.4 855.4,680.4 856.6,679.6 862.3,679.6 866.0,677.3 871.1,676.0 876.1,674.2 880.0,672.3 880.0,672.6 883.8,671.0 887.5,669.8 892.6,667.9 896.3,667.2 900.1,666.6 903.9,665.6 907.6,665.1 908.9,664.4 915.2,664.4 916.4,663.5 931.5,663.5 932.8,662.5 951.6,662.5 952.9,661.6 972.3,661.6 973.6,662.6 976.7,662.8 978.0,663.7 980.5,663.7 984.3,664.7 985.5,665.6 989.3,666.4 991.8,666.6 994.3,668.5 996.8,669.1 1000.6,669.8 1001.9,670.6 1019.4,670.6 1020.7,669.8 1023.8,669.1 1025.1,668.5 1031.4,668.5 1032.6,667.5 1035.8,667.2 1037.0,666.4 1039.5,666.4 1040.8,665.4 1047.1,665.4 1049.0,664.4 1055.3,664.4 1056.5,663.5 1063.4,663.5 1064.7,662.6 1075.4,662.6 1076.6,661.6 1083.5,661.6 1084.8,660.6 1087.9,660.3 1089.2,659.3 1100.0,659.3 1100.0,659.3 1143.3,659.3 1144.6,658.4 1155.3,658.4 1156.5,657.4 1180.4,657.4 1181.7,658.4 1187.9,658.4 1189.2,659.5 1196.7,659.5 1198.0,660.3 1200.5,660.6 1203.0,661.6 1206.8,663.5 1209.3,664.1 1213.1,665.4 1216.8,666.4 1220.6,667.2 1224.4,668.2 1231.9,668.5 1235.7,669.5 1248.2,669.5 1249.5,670.4 1259.5,670.4 1260.8,669.5 1267.1,669.5 1268.3,668.5 1275.3,668.5 1277.1,667.5 1279.6,667.2 1280.9,666.6 1286.6,666.4 1288.4,665.4 1291.0,664.4 1293.5,663.5 1299.1,663.5 1301.0,662.6 1303.5,662.2 1304.8,661.6 1311.1,661.3 1312.9,660.3 1320.0,660.3 1320.3,659.3 1326.0,659.1"/>
<g shape-rendering="crispEdges" stroke="#d2d2d2" stroke-width="1">
<line x1="3" y1="702.5" x2="1709" y2="702.5" stroke-dasharray="3 3"/>
<line x1="3" y1="721.5" x2="1709" y2="721.5" stroke-dasharray="3 3"/>
</g>
<polyline fill="none" stroke="#1e90ff" stroke-width="1" shape-rendering="crispEdges" points="0.0,725.4 2.5,724.4 12.6,724.4 14.1,725.4 18.2,723.4 20.1,723.4 22.0,724.4 25.8,722.5 28.3,722.3 30.2,723.4 33.9,722.3 38.3,722.3 41.5,720.4 46.5,720.4 48.4,721.3 50.6,723.4 54.6,720.4 58.4,722.3 62.4,718.3 66.6,722.3 71.0,721.3 74.7,717.3 78.5,720.4 82.3,715.3 87.3,715.3 91.1,717.3 95.5,716.3 100.5,716.3 102.4,717.3 105.5,716.3 111.2,716.3 114.3,718.3 118.1,715.3 123.7,715.0 128.1,713.3 131.3,713.3 134.4,715.3 142.0,711.1 146.4,716.3 150.1,718.3 154.5,715.3 159.5,715.3 166.5,719.3 170.2,716.3 183.4,716.3 188.4,714.3 191.0,714.3 197.9,717.5 206.0,713.3 212.3,711.2 216.1,711.2 220.0,712.2 220.0,713.3 222.5,713.3 225.0,712.2 227.5,712.2 230.7,714.3 238.8,714.3 242.6,719.3 245.8,717.3 252.7,717.3 254.5,718.3 257.1,717.3 258.9,717.3 262.7,720.4 266.5,722.3 270.3,723.4 274.0,724.4 278.4,722.3 282.2,721.3 287.8,721.3 292.9,719.3 296.0,719.3 298.5,720.4 301.7,719.3 306.1,719.3 310.5,717.3 314.8,716.3 321.8,712.2 323.6,712.2 326.8,714.3 330.6,708.2 334.3,714.3 338.1,715.3 341.9,716.5 348.1,714.3 353.2,712.2 358.2,712.2 362.0,710.4 366.4,710.4 370.8,714.3 374.5,715.3 378.3,714.3 382.7,708.2 388.3,705.2 403.4,705.2 405.9,704.2 407.8,704.6 411.0,706.5 415.4,706.5 418.5,708.2 422.3,705.6 426.0,704.2 434.2,714.3 440.0,711.2 440.0,710.6 442.5,708.2 446.5,713.5 450.7,710.4 463.2,710.4 465.1,709.4 468.3,709.4 470.2,710.4 476.4,710.4 478.9,711.4 482.7,710.4 486.5,709.4 489.6,708.2 492.8,708.2 495.9,709.4 498.4,711.4 502.2,708.2 504.7,708.2 507.8,710.4 511.0,712.5 514.1,713.5 519.1,713.5 522.3,712.2 526.1,710.4 530.5,715.3 534.2,712.2 540.5,712.2 543.0,713.5 546.8,714.5 550.6,713.3 553.7,708.2 556.8,707.2 560.0,707.2 562.5,708.2 565.0,707.2 579.4,707.2 582.0,706.2 583.8,706.5 587.0,708.5 590.1,707.5 592.6,706.5 596.4,705.2 600.2,705.2 602.7,706.5 605.8,707.5 610.2,705.2 612.1,705.6 614.0,706.5 618.4,704.2 621.5,704.6 625.9,711.4 634.1,705.2 638.5,708.5 642.3,707.2 646.7,711.4 651.1,711.4 654.8,713.5 660.0,713.5 660.0,713.5 662.5,714.5 666.5,716.5 670.7,713.5 674.4,714.5 678.8,713.3 682.6,712.2 686.4,708.2 690.8,708.2 693.3,707.2 698.3,707.2 702.7,711.4 706.5,714.5 710.3,712.2 714.6,709.4 718.4,712.2 722.2,712.2 724.7,713.5 730.4,719.3 735.4,719.3 737.9,720.9 741.7,718.3 747.3,718.3 749.2,717.3 753.0,716.3 764.3,716.3 766.8,717.3 770.6,718.3 774.3,720.4 778.7,717.3 783.1,719.3 785.6,718.3 788.1,718.3 790.7,717.3 793.2,717.3 795.7,718.8 798.2,722.3 803.2,722.3 806.4,724.4 810.1,725.4 814.5,725.4 818.9,729.5 823.3,729.5 824.6,728.5 838.4,728.5 842.2,722.3 844.7,719.3 848.4,717.5 854.1,715.3 860.4,715.3 862.3,716.3 866.0,717.5 872.3,714.3 876.1,714.3 878.0,715.3 880.0,714.3 880.0,713.5 883.8,712.2 888.2,712.2 891.3,713.5 898.8,718.3 902.6,713.3 905.8,712.2 910.8,715.3 914.5,714.3 917.7,713.3 922.7,715.3 926.5,713.3 930.3,715.3 934.0,713.5 939.0,713.3 941.6,712.2 944.7,712.2 946.6,713.5 951.6,713.3 953.5,712.2 956.0,713.3 962.3,718.3 966.7,718.3 974.8,723.4 976.7,722.3 982.4,724.4 986.8,719.3 988.7,719.3 990.6,720.4 994.3,717.5 998.1,718.3 1004.4,714.5 1009.4,713.3 1014.4,713.3 1018.8,716.5 1022.0,715.3 1028.9,713.5 1032.0,713.5 1034.5,714.3 1040.2,714.3 1042.1,715.3 1051.5,715.3 1058.4,712.2 1062.2,713.5 1067.2,713.3 1069.7,712.2 1076.0,712.2 1078.5,711.2 1082.3,705.6 1086.0,711.2 1094.8,715.3 1100.0,714.3 1100.0,714.5 1102.1,715.5 1106.2,713.4 1108.2,713.4 1110.3,714.5 1113.7,712.4 1122.6,712.4 1126.0,710.3 1128.1,710.6 1131.5,712.7 1134.3,712.4 1138.4,710.3 1140.4,710.3 1142.5,711.3 1147.3,711.3 1150.7,709.9 1154.1,708.1 1155.5,708.8 1158.9,713.4 1163.0,714.5 1165.8,713.4 1172.6,713.4 1174.0,714.5 1177.4,715.4 1183.6,716.5 1187.7,718.8 1191.1,721.3 1194.6,723.6 1197.3,721.6 1204.2,721.6 1206.2,722.7 1209.6,720.6 1212.4,720.6 1214.4,721.6 1217.9,720.6 1219.9,720.9 1222.7,722.5 1228.8,719.5 1232.3,719.5 1235.0,720.6 1239.8,720.6 1242.5,721.3 1246.0,719.5 1248.0,720.2 1250.8,722.5 1254.2,722.5 1261.7,713.4 1265.2,711.3 1267.9,711.6 1270.6,713.4 1273.4,712.4 1279.6,712.4 1282.3,714.5 1289.1,711.3 1295.3,711.3 1298.1,710.2 1300.1,710.3 1302.9,711.6 1306.3,713.4 1311.1,713.4 1314.5,714.5 1316.6,713.4 1324.1,713.4 1325.9,714.5"/>
<g shape-rendering="crispEdges" fill="#ffffff">
<rect x="1710" y="36" width="2" height="1"/>
<rect x="1710" y="85" width="2" height="1"/>
<rect x="1710" y="134" width="2" height="1"/>
<rect x="1710" y="183" width="2" height="1"/>
<rect x="1710" y="232" width="2" height="1"/>
<rect x="1710" y="281" width="2" height="1"/>
<rect x="1710" y="330" width="2" height="1"/>
<rect x="1710" y="379" width="2" height="1"/>
<rect x="1710" y="428" width="2" height="1"/>
<rect x="1710" y="477" width="2" height="1"/>
<rect x="1710" y="526" width="2" height="1"/>
<rect x="1710" y="575" width="2" height="1"/>
<rect x="1710" y="624" width="2" height="1"/>
<rect x="1710" y="647" width="1" height="1"/>
<rect x="1710" y="657" width="1" height="1"/>
<rect x="1710" y="684" width="1" height="1"/>
<rect x="1710" y="689" width="1" height="1"/>
</g>
<text x="1716" y="41" font-size="12.3px" fill="#ffffff" textLength="31.8" lengthAdjust="spacingAndGlyphs">65.85</text>
<text x="1716" y="90" font-size="12.3px" fill="#ffffff" textLength="31.8" lengthAdjust="spacingAndGlyphs">64.90</text>
<text x="1716" y="139" font-size="12.3px" fill="#ffffff" textLength="31.8" lengthAdjust="spacingAndGlyphs">63.95</text>
<text x="1716" y="188" font-size="12.3px" fill="#ffffff" textLength="31.8" lengthAdjust="spacingAndGlyphs">63.00</text>
<text x="1716" y="237" font-size="12.3px" fill="#ffffff" textLength="31.8" lengthAdjust="spacingAndGlyphs">62.05</text>
<text x="1716" y="286" font-size="12.3px" fill="#ffffff" textLength="31.8" lengthAdjust="spacingAndGlyphs">61.10</text>
<text x="1716" y="335" font-size="12.3px" fill="#ffffff" textLength="31.8" lengthAdjust="spacingAndGlyphs">60.15</text>
<text x="1716" y="384" font-size="12.3px" fill="#ffffff" textLength="31.8" lengthAdjust="spacingAndGlyphs">59.20</text>
<text x="1716" y="433" font-size="12.3px" fill="#ffffff" textLength="31.8" lengthAdjust="spacingAndGlyphs">58.25</text>
<text x="1716" y="482" font-size="12.3px" fill="#ffffff" textLength="31.8" lengthAdjust="spacingAndGlyphs">57.30</text>
<text x="1716" y="531" font-size="12.3px" fill="#ffffff" textLength="31.8" lengthAdjust="spacingAndGlyphs">56.35</text>
<text x="1716" y="580" font-size="12.3px" fill="#ffffff" textLength="31.8" lengthAdjust="spacingAndGlyphs">55.40</text>
<text x="1716" y="629" font-size="12.3px" fill="#ffffff" textLength="31.8" lengthAdjust="spacingAndGlyphs">54.45</text>
<rect x="1711" y="15" width="40" height="14" fill="#ffffff" shape-rendering="crispEdges"/>
<text x="1716" y="27" font-size="12.3px" fill="#0a1e3c" textLength="31.8" lengthAdjust="spacingAndGlyphs">66.13</text>
<rect x="1711" y="319" width="40" height="14" fill="#ffffff" shape-rendering="crispEdges"/>
<text x="1716" y="331" font-size="12.3px" fill="#0a1e3c" textLength="31.8" lengthAdjust="spacingAndGlyphs">60.25</text>
<rect x="1711" y="490" width="40" height="14" fill="#ffffff" shape-rendering="crispEdges"/>
<text x="1716" y="502" font-size="12.3px" fill="#0a1e3c" textLength="31.8" lengthAdjust="spacingAndGlyphs">56.91</text>
<text x="1713" y="659" font-size="12.3px" fill="#ffffff" textLength="31.8" lengthAdjust="spacingAndGlyphs">0.317</text>
<text x="1713" y="662" font-size="12.3px" fill="#ffffff" textLength="24.8" lengthAdjust="spacingAndGlyphs">0.00</text>
<text x="1713" y="682" font-size="12.3px" fill="#ffffff" textLength="36.1" lengthAdjust="spacingAndGlyphs">-0.822</text>
<text x="1713" y="701" font-size="12.3px" fill="#ffffff" textLength="21.2" lengthAdjust="spacingAndGlyphs">100</text>
<text x="1713" y="707" font-size="12.3px" fill="#ffffff" textLength="14.1" lengthAdjust="spacingAndGlyphs">70</text>
<text x="1713" y="726" font-size="12.3px" fill="#ffffff" textLength="14.1" lengthAdjust="spacingAndGlyphs">30</text>
<text x="1713" y="734" font-size="12.3px" fill="#ffffff" textLength="7.1" lengthAdjust="spacingAndGlyphs">0</text>
<text x="1" y="661" font-size="12.3px" fill="#ffffff" textLength="14.1" lengthAdjust="spacingAndGlyphs">69</text>
<text x="751.6" y="63.2" font-size="26px" font-weight="bold" fill="#ffffff" textLength="135.2" lengthAdjust="spacingAndGlyphs" stroke="#ffffff" stroke-width="1.25" stroke-linejoin="round" paint-order="stroke">Crude Oil</text>
<text x="757.3" y="114.0" font-size="26px" font-weight="bold" fill="#ffffff" textLength="128.8" lengthAdjust="spacingAndGlyphs" stroke="#ffffff" stroke-width="1.25" stroke-linejoin="round" paint-order="stroke">H1 Chart</text>
<text x="1342.8" y="320.5" font-size="19.6px" font-weight="bold" fill="#ffffff" textLength="92.6" lengthAdjust="spacingAndGlyphs">60.25-50</text>
<text x="1324.9" y="443.8" font-size="19.6px" font-weight="bold" fill="#ffffff" textLength="59" lengthAdjust="spacingAndGlyphs">57.60</text>
<text x="1305.8" y="588.6" font-size="19.6px" font-weight="bold" fill="#ffffff" textLength="92.6" lengthAdjust="spacingAndGlyphs">55.00-30</text>
<text x="1363" y="668.9" font-size="19.6px" font-weight="bold" fill="#1e90ff" textLength="92.6" lengthAdjust="spacingAndGlyphs">50.00-50</text>
<g fill="none" stroke="#ffffff" stroke-width="3" stroke-linecap="round" stroke-linejoin="round">
<path d="M1369.8 410.9 L1402.8 335.8"/>
<path d="M1389.5 351 L1402.8 335.8 L1402.2 354.5" stroke-width="2.6"/>
<path d="M1409.7 590.5 L1435 638.5"/>
<path d="M1424 632.5 L1435 638.5 L1435 624.5" stroke-width="2.6"/>
</g>
<g fill="none" stroke="#ed1c24" stroke-width="2.9" stroke-linecap="round" stroke-linejoin="round">
<path d="M1351.8 478.5 L1382.3 557 L1407 487"/>
<path d="M1398.5 496.5 L1407 487 L1410 505" stroke-width="2.6"/>
</g>
<g fill="#000000" shape-rendering="crispEdges">
<rect x="1433" y="501" width="4" height="3"/>
<rect x="1446" y="507" width="3" height="4"/>
<rect x="1433" y="609" width="6" height="3"/>
</g>
</svg></body></html>
